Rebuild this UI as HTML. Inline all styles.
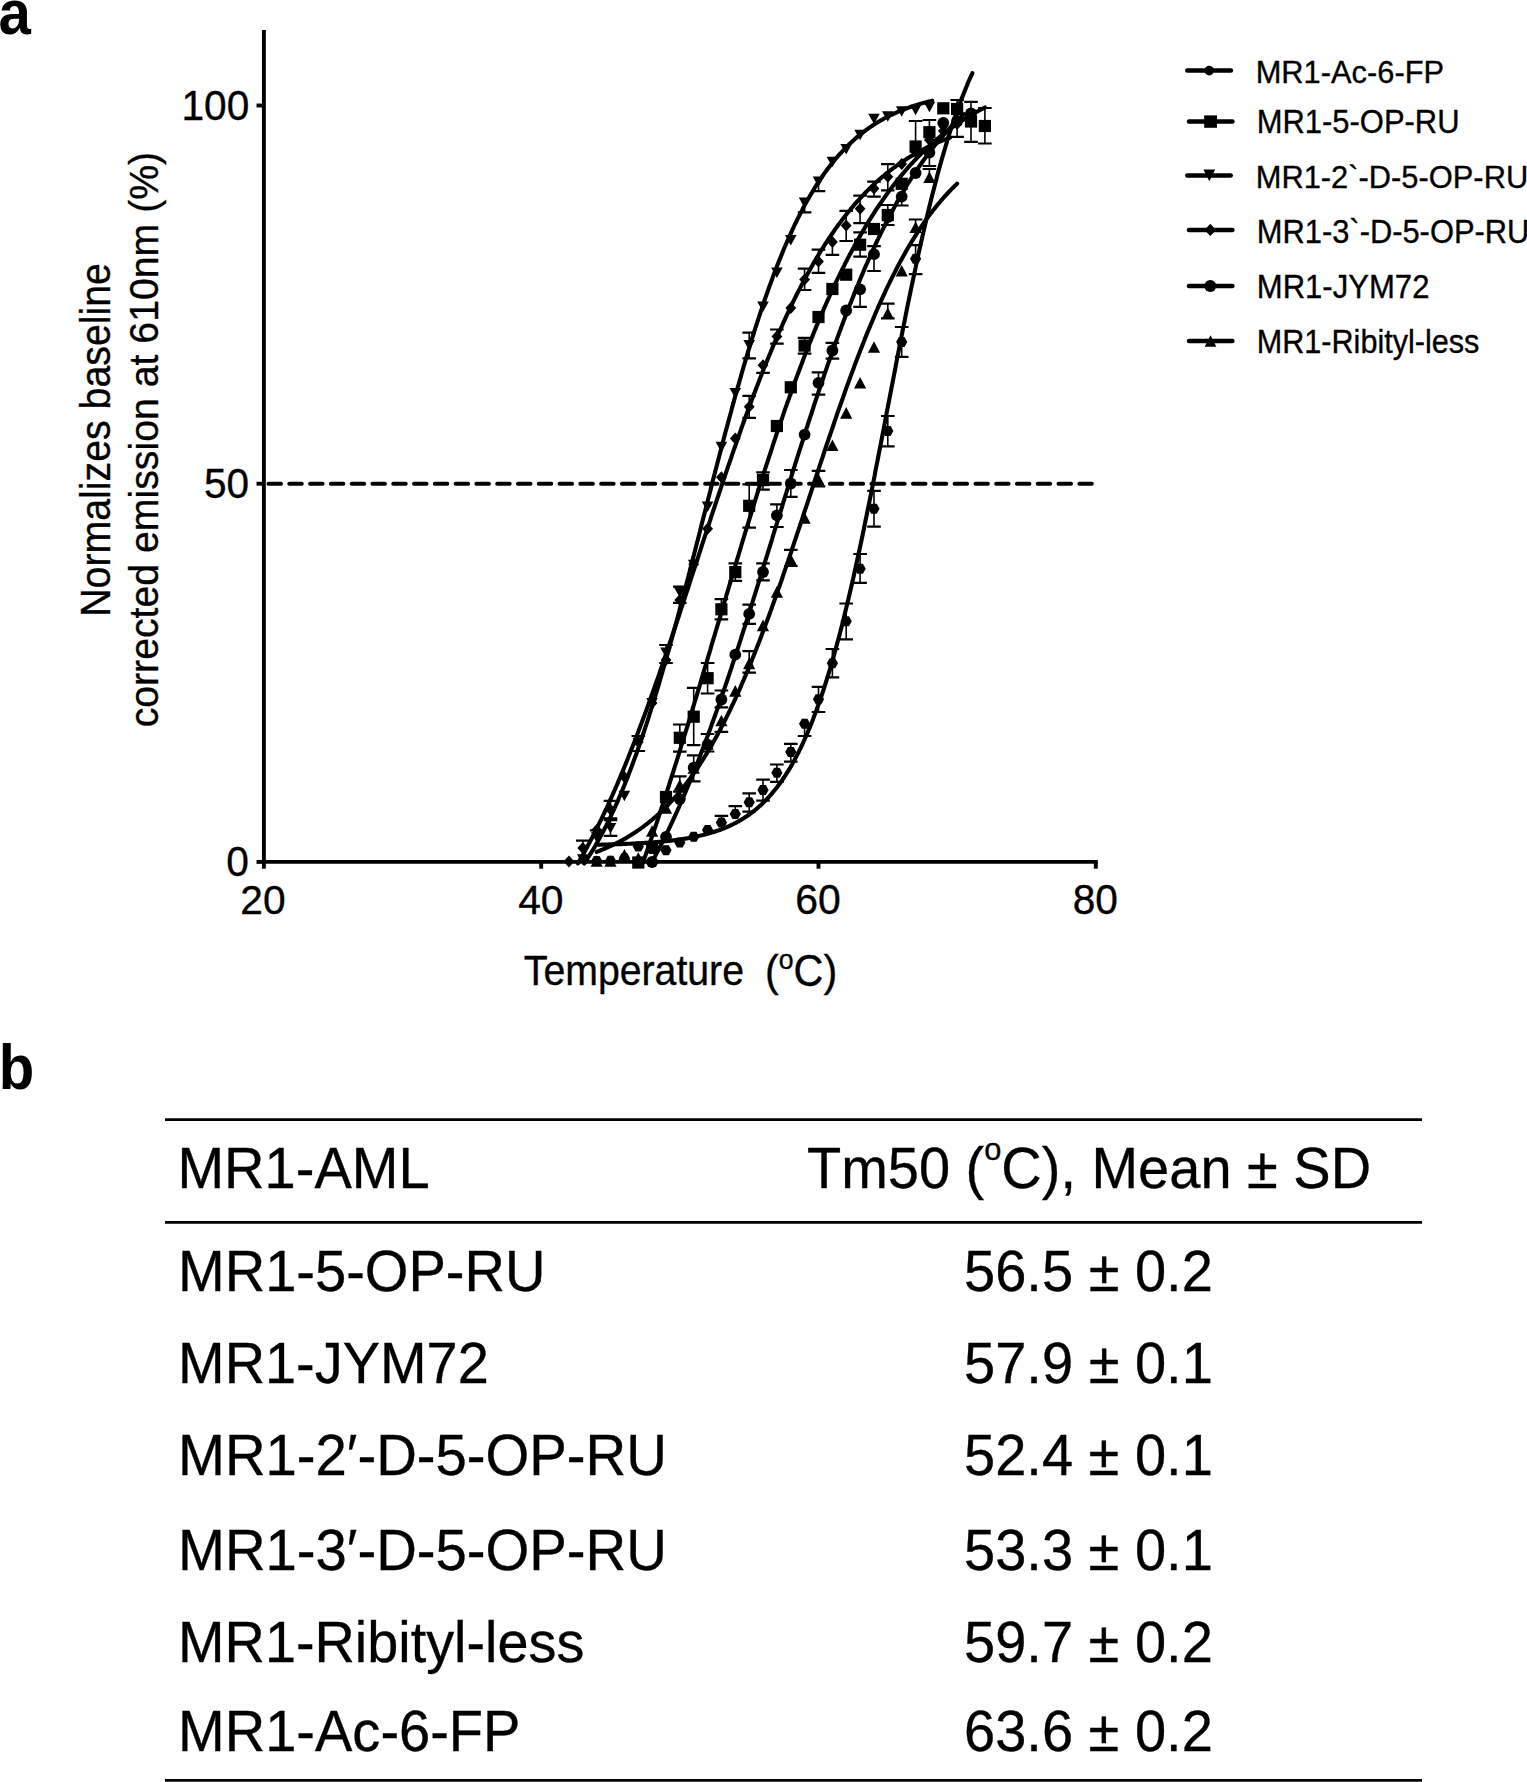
<!DOCTYPE html>
<html><head><meta charset="utf-8"><title>Figure</title><style>
html,body{margin:0;padding:0;background:#fff;overflow:hidden;}
svg{display:block;}
</style></head><body>
<svg width="1527" height="1782" viewBox="0 0 1527 1782" font-family="Liberation Sans, Arial, Helvetica, sans-serif">
<rect width="1527" height="1782" fill="#fff"/>
<text transform="matrix(0.9531,0,0,1.0375,-1.61,33.70)" font-size="61" font-weight="bold" stroke="#000" stroke-width="0" xml:space="preserve">a</text>
<text transform="matrix(0.9531,0,0,1.0273,-1.26,1088.60)" font-size="61" font-weight="bold" stroke="#000" stroke-width="0" xml:space="preserve">b</text>
<text transform="matrix(0.9680,0,0,1.0103,181.48,119.60)" font-size="42" stroke="#000" stroke-width="0.35" xml:space="preserve">100</text>
<text transform="matrix(0.9651,0,0,1.0034,204.07,497.90)" font-size="42" stroke="#000" stroke-width="0.35" xml:space="preserve">50</text>
<text transform="matrix(0.9700,0,0,1.0000,226.16,875.80)" font-size="42" stroke="#000" stroke-width="0.35" xml:space="preserve">0</text>
<text transform="matrix(0.9698,0,0,0.9862,240.36,913.60)" font-size="42" stroke="#000" stroke-width="0.35" xml:space="preserve">20</text>
<text transform="matrix(0.9705,0,0,0.9828,518.13,913.60)" font-size="42" stroke="#000" stroke-width="0.35" xml:space="preserve">40</text>
<text transform="matrix(0.9744,0,0,1.0000,795.35,914.00)" font-size="42" stroke="#000" stroke-width="0.35" xml:space="preserve">60</text>
<text transform="matrix(0.9674,0,0,1.0000,1072.77,914.00)" font-size="42" stroke="#000" stroke-width="0.35" xml:space="preserve">80</text>
<text transform="matrix(0.9343,0,0,1.0069,523.77,985.40)" font-size="42" stroke="#000" stroke-width="0.35" xml:space="preserve">Temperature</text>
<text transform="matrix(0.9853,0,0,1.0483,764.94,986.00)" font-size="42" stroke="#000" stroke-width="0.35" xml:space="preserve">(<tspan font-size="27" dy="-16.5">o</tspan><tspan dy="16.5">C)</tspan></text>
<text transform="rotate(-90) matrix(0.9357,0,0,0.9931,-616.81,110.20)" font-size="42" stroke="#000" stroke-width="0.35" xml:space="preserve">Normalizes baseline</text>
<text transform="rotate(-90) matrix(0.9340,0,0,0.9522,-727.37,158.00)" font-size="42" stroke="#000" stroke-width="0.35" xml:space="preserve">corrected emission at 610nm (%)</text>
<text transform="matrix(0.9345,0,0,0.9783,1255.70,82.50)" font-size="33" stroke="#000" stroke-width="0.35" xml:space="preserve">MR1-Ac-6-FP</text>
<text transform="matrix(0.9374,0,0,0.9826,1256.79,133.30)" font-size="33" stroke="#000" stroke-width="0.35" xml:space="preserve">MR1-5-OP-RU</text>
<text transform="matrix(0.9353,0,0,0.9696,1255.69,188.40)" font-size="33" stroke="#000" stroke-width="0.35" xml:space="preserve">MR1-2`-D-5-OP-RU</text>
<text transform="matrix(0.9353,0,0,0.9826,1256.79,243.00)" font-size="33" stroke="#000" stroke-width="0.35" xml:space="preserve">MR1-3`-D-5-OP-RU</text>
<text transform="matrix(0.9419,0,0,0.9826,1256.77,297.60)" font-size="33" stroke="#000" stroke-width="0.35" xml:space="preserve">MR1-JYM72</text>
<text transform="matrix(0.9267,0,0,0.9826,1256.82,352.70)" font-size="33" stroke="#000" stroke-width="0.35" xml:space="preserve">MR1-Ribityl-less</text>
<text transform="matrix(0.9498,0,0,0.9780,177.45,1188.20)" font-size="59" stroke="#000" stroke-width="0.35" xml:space="preserve">MR1-AML</text>
<text transform="matrix(0.9489,0,0,0.9732,806.95,1187.70)" font-size="59" stroke="#000" stroke-width="0.35" xml:space="preserve">Tm50 (<tspan font-size="32.5" dy="-28">o</tspan><tspan dy="28">C), Mean ± SD</tspan></text>
<text transform="matrix(0.9501,0,0,0.9805,178.05,1291.10)" font-size="59" stroke="#000" stroke-width="0.35" xml:space="preserve">MR1-5-OP-RU</text>
<text transform="matrix(0.9496,0,0,0.9805,964.05,1291.10)" font-size="59" stroke="#000" stroke-width="0.35" xml:space="preserve">56.5 ± 0.2</text>
<text transform="matrix(0.9478,0,0,0.9683,178.06,1383.00)" font-size="59" stroke="#000" stroke-width="0.35" xml:space="preserve">MR1-JYM72</text>
<text transform="matrix(0.9496,0,0,0.9683,964.05,1383.00)" font-size="59" stroke="#000" stroke-width="0.35" xml:space="preserve">57.9 ± 0.1</text>
<text transform="matrix(0.9541,0,0,0.9756,178.03,1475.20)" font-size="59" stroke="#000" stroke-width="0.35" xml:space="preserve">MR1-2′-D-5-OP-RU</text>
<text transform="matrix(0.9496,0,0,0.9756,964.05,1475.20)" font-size="59" stroke="#000" stroke-width="0.35" xml:space="preserve">52.4 ± 0.1</text>
<text transform="matrix(0.9541,0,0,0.9756,178.03,1570.00)" font-size="59" stroke="#000" stroke-width="0.35" xml:space="preserve">MR1-3′-D-5-OP-RU</text>
<text transform="matrix(0.9496,0,0,0.9756,964.05,1570.00)" font-size="59" stroke="#000" stroke-width="0.35" xml:space="preserve">53.3 ± 0.1</text>
<text transform="matrix(0.9464,0,0,0.9756,178.07,1662.20)" font-size="59" stroke="#000" stroke-width="0.35" xml:space="preserve">MR1-Ribityl-less</text>
<text transform="matrix(0.9496,0,0,0.9756,964.05,1662.20)" font-size="59" stroke="#000" stroke-width="0.35" xml:space="preserve">59.7 ± 0.2</text>
<text transform="matrix(0.9497,0,0,0.9756,178.05,1751.20)" font-size="59" stroke="#000" stroke-width="0.35" xml:space="preserve">MR1-Ac-6-FP</text>
<text transform="matrix(0.9496,0,0,0.9756,964.05,1751.20)" font-size="59" stroke="#000" stroke-width="0.35" xml:space="preserve">63.6 ± 0.2</text>
<path d="M263.9 30V863.85" stroke="#000" stroke-width="3.9" fill="none"/>
<path d="M261.95 861.9H1097.75" stroke="#000" stroke-width="3.9" fill="none"/>
<path d="M263.90 861.9V868.7" stroke="#000" stroke-width="3.9"/>
<path d="M541.20 861.9V868.7" stroke="#000" stroke-width="3.9"/>
<path d="M818.50 861.9V868.7" stroke="#000" stroke-width="3.9"/>
<path d="M1095.80 861.9V868.7" stroke="#000" stroke-width="3.9"/>
<path d="M256.5 861.90H263.9" stroke="#000" stroke-width="3.9"/>
<path d="M256.5 483.70H263.9" stroke="#000" stroke-width="3.9"/>
<path d="M256.5 105.50H263.9" stroke="#000" stroke-width="3.9"/>
<path d="M268.5 483.70H1092" stroke="#000" stroke-width="4" stroke-linecap="round" stroke-dasharray="12.5 8.29"/>
<path d="M1187.3 70.6H1230.9" stroke="#000" stroke-width="4.5" stroke-linecap="round"/>
<circle cx="1209.20" cy="70.60" r="4.80"/>
<path d="M1189 121.6H1232.4" stroke="#000" stroke-width="4.5" stroke-linecap="round"/>
<rect x="1204.20" y="115.40" width="12.80" height="12.40"/>
<path d="M1187.3 175.4H1230.7" stroke="#000" stroke-width="4.5" stroke-linecap="round"/>
<path d="M1203.40 169.62L1215.20 169.62L1209.30 181.18Z"/>
<path d="M1189 229.9H1232.4" stroke="#000" stroke-width="4.5" stroke-linecap="round"/>
<path d="M1210.30 223.80L1216.10 229.90L1210.30 236.00L1204.50 229.90Z"/>
<path d="M1189 285.9H1232.4" stroke="#000" stroke-width="4.5" stroke-linecap="round"/>
<circle cx="1210.30" cy="285.90" r="6.00"/>
<path d="M1189 341.0H1232.4" stroke="#000" stroke-width="4.5" stroke-linecap="round"/>
<path d="M1204.70 346.68L1216.30 346.68L1210.50 335.32Z"/>
<path d="M165 1119.6H1422M165 1222.3H1422M165 1780.3H1422" stroke="#000" stroke-width="2.8"/>
<path d="M584.2 863.5 L584.9 862.5 L585.6 861.5 L586.3 860.4 L587.0 859.4 L587.6 858.3 L588.3 857.2 L589.0 856.1 L589.7 855.0 L590.4 853.9 L591.1 852.8 L591.8 851.7 L592.5 850.5 L593.2 849.4 L593.9 848.2 L594.6 847.0 L595.3 845.8 L596.0 844.6 L596.7 843.4 L597.4 842.2 L598.0 841.0 L598.7 839.7 L599.4 838.5 L600.1 837.2 L600.8 835.9 L601.5 834.6 L602.2 833.3 L602.9 832.0 L603.6 830.7 L604.3 829.4 L605.0 828.0 L605.7 826.7 L606.4 825.3 L607.1 823.9 L607.8 822.5 L608.4 821.1 L609.1 819.7 L609.8 818.2 L610.5 816.8 L611.2 815.3 L611.9 813.8 L612.6 812.4 L613.3 810.9 L614.0 809.4 L614.7 807.8 L615.4 806.3 L616.1 804.7 L616.8 803.2 L617.5 801.6 L618.2 800.0 L618.8 798.4 L619.5 796.8 L620.2 795.2 L620.9 793.5 L621.6 791.9 L622.3 790.2 L623.0 788.5 L623.7 786.9 L624.4 785.2 L625.1 783.4 L625.8 781.7 L626.5 780.0 L627.2 778.2 L627.9 776.4 L628.5 774.7 L629.2 772.9 L629.9 771.0 L630.6 769.2 L631.3 767.4 L632.0 765.5 L632.7 763.7 L633.4 761.8 L634.1 759.9 L634.8 758.0 L635.5 756.1 L636.2 754.2 L636.9 752.2 L637.6 750.3 L638.3 748.3 L638.9 746.3 L639.6 744.3 L640.3 742.3 L641.0 740.3 L641.7 738.3 L642.4 736.2 L643.1 734.2 L643.8 732.1 L644.5 730.0 L645.2 727.9 L645.9 725.8 L646.6 723.7 L647.3 721.6 L648.0 719.4 L648.7 717.3 L649.3 715.1 L650.0 712.9 L650.7 710.7 L651.4 708.5 L652.1 706.3 L652.8 704.1 L653.5 701.8 L654.2 699.6 L654.9 697.3 L655.6 695.0 L656.3 692.8 L657.0 690.5 L657.7 688.1 L658.4 685.8 L659.1 683.5 L659.7 681.1 L660.4 678.8 L661.1 676.4 L661.8 674.0 L662.5 671.7 L663.2 669.3 L663.9 666.8 L664.6 664.4 L665.3 662.0 L666.0 659.6 L666.7 657.1 L667.4 654.7 L668.1 652.2 L668.8 649.7 L669.5 647.2 L670.1 644.7 L670.8 642.2 L671.5 639.7 L672.2 637.2 L672.9 634.7 L673.6 632.1 L674.3 629.6 L675.0 627.0 L675.7 624.5 L676.4 621.9 L677.1 619.3 L677.8 616.7 L678.5 614.1 L679.2 611.5 L679.8 608.9 L680.5 606.3 L681.2 603.7 L681.9 601.1 L682.6 598.4 L683.3 595.8 L684.0 593.2 L684.7 590.5 L685.4 587.9 L686.1 585.2 L686.8 582.5 L687.5 579.9 L688.2 577.2 L688.9 574.5 L689.6 571.8 L690.2 569.1 L690.9 566.4 L691.6 563.8 L692.3 561.1 L693.0 558.4 L693.7 555.7 L694.4 552.9 L695.1 550.2 L695.8 547.5 L696.5 544.8 L697.2 542.1 L697.9 539.4 L698.6 536.7 L699.3 533.9 L700.0 531.2 L700.6 528.5 L701.3 525.8 L702.0 523.1 L702.7 520.3 L703.4 517.6 L704.1 514.9 L704.8 512.2 L705.5 509.5 L706.2 506.7 L706.9 504.0 L707.6 501.3 L708.3 498.6 L709.0 495.9 L709.7 493.2 L710.4 490.5 L711.0 487.7 L711.7 485.0 L712.4 482.3 L713.1 479.6 L713.8 476.9 L714.5 474.3 L715.2 471.6 L715.9 468.9 L716.6 466.2 L717.3 463.5 L718.0 460.9 L718.7 458.2 L719.4 455.5 L720.1 452.9 L720.8 450.2 L721.4 447.6 L722.1 444.9 L722.8 442.3 L723.5 439.7 L724.2 437.0 L724.9 434.4 L725.6 431.8 L726.3 429.2 L727.0 426.6 L727.7 424.0 L728.4 421.4 L729.1 418.9 L729.8 416.3 L730.5 413.7 L731.2 411.2 L731.8 408.6 L732.5 406.1 L733.2 403.6 L733.9 401.1 L734.6 398.5 L735.3 396.0 L736.0 393.6 L736.7 391.1 L737.4 388.6 L738.1 386.1 L738.8 383.7 L739.5 381.2 L740.2 378.8 L740.9 376.4 L741.5 374.0 L742.2 371.6 L742.9 369.2 L743.6 366.8 L744.3 364.4 L745.0 362.1 L745.7 359.7 L746.4 357.4 L747.1 355.0 L747.8 352.7 L748.5 350.4 L749.2 348.1 L749.9 345.8 L750.6 343.6 L751.3 341.3 L751.9 339.0 L752.6 336.8 L753.3 334.6 L754.0 332.4 L754.7 330.2 L755.4 328.0 L756.1 325.8 L756.8 323.6 L757.5 321.5 L758.2 319.3 L758.9 317.2 L759.6 315.1 L760.3 313.0 L761.0 310.9 L761.7 308.8 L762.3 306.8 L763.0 304.7 L763.7 302.7 L764.4 300.7 L765.1 298.6 L765.8 296.6 L766.5 294.7 L767.2 292.7 L767.9 290.7 L768.6 288.8 L769.3 286.8 L770.0 284.9 L770.7 283.0 L771.4 281.1 L772.1 279.2 L772.7 277.4 L773.4 275.5 L774.1 273.7 L774.8 271.8 L775.5 270.0 L776.2 268.2 L776.9 266.4 L777.6 264.6 L778.3 262.9 L779.0 261.1 L779.7 259.4 L780.4 257.7 L781.1 256.0 L781.8 254.3 L782.5 252.6 L783.1 250.9 L783.8 249.2 L784.5 247.6 L785.2 246.0 L785.9 244.3 L786.6 242.7 L787.3 241.1 L788.0 239.6 L788.7 238.0 L789.4 236.4 L790.1 234.9 L790.8 233.4 L791.5 231.8 L792.2 230.3 L792.8 228.8 L793.5 227.4 L794.2 225.9 L794.9 224.4 L795.6 223.0 L796.3 221.6 L797.0 220.1 L797.7 218.7 L798.4 217.3 L799.1 216.0 L799.8 214.6 L800.5 213.2 L801.2 211.9 L801.9 210.6 L802.6 209.2 L803.2 207.9 L803.9 206.6 L804.6 205.3 L805.3 204.1 L806.0 202.8 L806.7 201.6 L807.4 200.3 L808.1 199.1 L808.8 197.9 L809.5 196.7 L810.2 195.5 L810.9 194.3 L811.6 193.1 L812.3 192.0 L813.0 190.8 L813.6 189.7 L814.3 188.5 L815.0 187.4 L815.7 186.3 L816.4 185.2 L817.1 184.1 L817.8 183.1 L818.5 182.0 L819.2 181.0 L819.9 179.9 L820.6 178.9 L821.3 177.9 L822.0 176.8 L822.7 175.8 L823.4 174.8 L824.0 173.9 L824.7 172.9 L825.4 171.9 L826.1 171.0 L826.8 170.0 L827.5 169.1 L828.2 168.2 L828.9 167.3 L829.6 166.4 L830.3 165.5 L831.0 164.6 L831.7 163.7 L832.4 162.8 L833.1 162.0 L833.8 161.1 L834.4 160.3 L835.1 159.4 L835.8 158.6 L836.5 157.8 L837.2 157.0 L837.9 156.2 L838.6 155.4 L839.3 154.6 L840.0 153.8 L840.7 153.1 L841.4 152.3 L842.1 151.6 L842.8 150.8 L843.5 150.1 L844.2 149.4 L844.8 148.6 L845.5 147.9 L846.2 147.2 L846.9 146.5 L847.6 145.8 L848.3 145.2 L849.0 144.5 L849.7 143.8 L850.4 143.2 L851.1 142.5 L851.8 141.9 L852.5 141.2 L853.2 140.6 L853.9 140.0 L854.5 139.4 L855.2 138.7 L855.9 138.1 L856.6 137.5 L857.3 137.0 L858.0 136.4 L858.7 135.8 L859.4 135.2 L860.1 134.7 L860.8 134.1 L861.5 133.5 L862.2 133.0 L862.9 132.5 L863.6 131.9 L864.3 131.4 L864.9 130.9 L865.6 130.4 L866.3 129.9 L867.0 129.3 L867.7 128.8 L868.4 128.4 L869.1 127.9 L869.8 127.4 L870.5 126.9 L871.2 126.4 L871.9 126.0 L872.6 125.5 L873.3 125.1 L874.0 124.6 L874.7 124.2 L875.3 123.7 L876.0 123.3 L876.7 122.9 L877.4 122.4 L878.1 122.0 L878.8 121.6 L879.5 121.2 L880.2 120.8 L880.9 120.4 L881.6 120.0 L882.3 119.6 L883.0 119.2 L883.7 118.8 L884.4 118.4 L885.1 118.1 L885.7 117.7 L886.4 117.3 L887.1 117.0 L887.8 116.6 L888.5 116.3 L889.2 115.9 L889.9 115.6 L890.6 115.2 L891.3 114.9 L892.0 114.6 L892.7 114.2 L893.4 113.9 L894.1 113.6 L894.8 113.3 L895.5 113.0 L896.1 112.6 L896.8 112.3 L897.5 112.0 L898.2 111.7 L898.9 111.4 L899.6 111.2 L900.3 110.9 L901.0 110.6 L901.7 110.3 L902.4 110.0 L903.1 109.7 L903.8 109.5 L904.5 109.2 L905.2 108.9 L905.8 108.7 L906.5 108.4 L907.2 108.2 L907.9 107.9 L908.6 107.7 L909.3 107.4 L910.0 107.2 L910.7 106.9 L911.4 106.7 L912.1 106.4 L912.8 106.2 L913.5 106.0 L914.2 105.8 L914.9 105.5 L915.6 105.3 L916.2 105.1 L916.9 104.9 L917.6 104.7 L918.3 104.5 L919.0 104.2 L919.7 104.0 L920.4 103.8 L921.1 103.6 L921.8 103.4 L922.5 103.2 L923.2 103.0 L923.9 102.8 L924.6 102.7 L925.3 102.5 L926.0 102.3 L926.6 102.1 L927.3 101.9 L928.0 101.7 L928.7 101.6 L929.4 101.4 L930.1 101.2 L930.8 101.1 L931.5 100.9 L932.2 100.7" fill="none" stroke="#000" stroke-width="4.1" stroke-linecap="round" stroke-linejoin="round"/>
<path d="M577.9 863.4 L578.6 862.2 L579.3 861.0 L580.0 859.8 L580.7 858.6 L581.4 857.4 L582.1 856.1 L582.8 854.9 L583.5 853.7 L584.2 852.4 L584.9 851.2 L585.6 849.9 L586.3 848.6 L587.0 847.4 L587.6 846.1 L588.3 844.8 L589.0 843.5 L589.7 842.2 L590.4 840.8 L591.1 839.5 L591.8 838.2 L592.5 836.9 L593.2 835.5 L593.9 834.2 L594.6 832.8 L595.3 831.4 L596.0 830.0 L596.7 828.7 L597.4 827.3 L598.0 825.9 L598.7 824.5 L599.4 823.0 L600.1 821.6 L600.8 820.2 L601.5 818.8 L602.2 817.3 L602.9 815.8 L603.6 814.4 L604.3 812.9 L605.0 811.4 L605.7 810.0 L606.4 808.5 L607.1 807.0 L607.8 805.5 L608.4 803.9 L609.1 802.4 L609.8 800.9 L610.5 799.3 L611.2 797.8 L611.9 796.3 L612.6 794.7 L613.3 793.1 L614.0 791.5 L614.7 790.0 L615.4 788.4 L616.1 786.8 L616.8 785.2 L617.5 783.6 L618.2 781.9 L618.8 780.3 L619.5 778.7 L620.2 777.0 L620.9 775.4 L621.6 773.7 L622.3 772.1 L623.0 770.4 L623.7 768.7 L624.4 767.0 L625.1 765.3 L625.8 763.6 L626.5 761.9 L627.2 760.2 L627.9 758.5 L628.5 756.7 L629.2 755.0 L629.9 753.3 L630.6 751.5 L631.3 749.8 L632.0 748.0 L632.7 746.2 L633.4 744.5 L634.1 742.7 L634.8 740.9 L635.5 739.1 L636.2 737.3 L636.9 735.5 L637.6 733.6 L638.3 731.8 L638.9 730.0 L639.6 728.2 L640.3 726.3 L641.0 724.5 L641.7 722.6 L642.4 720.8 L643.1 718.9 L643.8 717.0 L644.5 715.1 L645.2 713.2 L645.9 711.4 L646.6 709.5 L647.3 707.6 L648.0 705.6 L648.7 703.7 L649.3 701.8 L650.0 699.9 L650.7 698.0 L651.4 696.0 L652.1 694.1 L652.8 692.1 L653.5 690.2 L654.2 688.2 L654.9 686.3 L655.6 684.3 L656.3 682.3 L657.0 680.3 L657.7 678.4 L658.4 676.4 L659.1 674.4 L659.7 672.4 L660.4 670.4 L661.1 668.4 L661.8 666.4 L662.5 664.3 L663.2 662.3 L663.9 660.3 L664.6 658.3 L665.3 656.2 L666.0 654.2 L666.7 652.2 L667.4 650.1 L668.1 648.1 L668.8 646.0 L669.5 644.0 L670.1 641.9 L670.8 639.9 L671.5 637.8 L672.2 635.7 L672.9 633.7 L673.6 631.6 L674.3 629.5 L675.0 627.4 L675.7 625.3 L676.4 623.3 L677.1 621.2 L677.8 619.1 L678.5 617.0 L679.2 614.9 L679.8 612.8 L680.5 610.7 L681.2 608.6 L681.9 606.5 L682.6 604.4 L683.3 602.3 L684.0 600.2 L684.7 598.1 L685.4 595.9 L686.1 593.8 L686.8 591.7 L687.5 589.6 L688.2 587.5 L688.9 585.4 L689.6 583.2 L690.2 581.1 L690.9 579.0 L691.6 576.9 L692.3 574.8 L693.0 572.6 L693.7 570.5 L694.4 568.4 L695.1 566.3 L695.8 564.1 L696.5 562.0 L697.2 559.9 L697.9 557.8 L698.6 555.6 L699.3 553.5 L700.0 551.4 L700.6 549.3 L701.3 547.1 L702.0 545.0 L702.7 542.9 L703.4 540.8 L704.1 538.7 L704.8 536.5 L705.5 534.4 L706.2 532.3 L706.9 530.2 L707.6 528.1 L708.3 526.0 L709.0 523.8 L709.7 521.7 L710.4 519.6 L711.0 517.5 L711.7 515.4 L712.4 513.3 L713.1 511.2 L713.8 509.1 L714.5 507.0 L715.2 504.9 L715.9 502.8 L716.6 500.8 L717.3 498.7 L718.0 496.6 L718.7 494.5 L719.4 492.4 L720.1 490.4 L720.8 488.3 L721.4 486.2 L722.1 484.2 L722.8 482.1 L723.5 480.0 L724.2 478.0 L724.9 475.9 L725.6 473.9 L726.3 471.8 L727.0 469.8 L727.7 467.8 L728.4 465.7 L729.1 463.7 L729.8 461.7 L730.5 459.7 L731.2 457.7 L731.8 455.7 L732.5 453.6 L733.2 451.6 L733.9 449.6 L734.6 447.7 L735.3 445.7 L736.0 443.7 L736.7 441.7 L737.4 439.7 L738.1 437.8 L738.8 435.8 L739.5 433.8 L740.2 431.9 L740.9 429.9 L741.5 428.0 L742.2 426.1 L742.9 424.1 L743.6 422.2 L744.3 420.3 L745.0 418.4 L745.7 416.5 L746.4 414.6 L747.1 412.7 L747.8 410.8 L748.5 408.9 L749.2 407.0 L749.9 405.1 L750.6 403.3 L751.3 401.4 L751.9 399.6 L752.6 397.7 L753.3 395.9 L754.0 394.0 L754.7 392.2 L755.4 390.4 L756.1 388.6 L756.8 386.8 L757.5 385.0 L758.2 383.2 L758.9 381.4 L759.6 379.6 L760.3 377.8 L761.0 376.0 L761.7 374.3 L762.3 372.5 L763.0 370.8 L763.7 369.0 L764.4 367.3 L765.1 365.6 L765.8 363.8 L766.5 362.1 L767.2 360.4 L767.9 358.7 L768.6 357.0 L769.3 355.3 L770.0 353.7 L770.7 352.0 L771.4 350.3 L772.1 348.7 L772.7 347.0 L773.4 345.4 L774.1 343.7 L774.8 342.1 L775.5 340.5 L776.2 338.9 L776.9 337.3 L777.6 335.7 L778.3 334.1 L779.0 332.5 L779.7 330.9 L780.4 329.4 L781.1 327.8 L781.8 326.3 L782.5 324.7 L783.1 323.2 L783.8 321.6 L784.5 320.1 L785.2 318.6 L785.9 317.1 L786.6 315.6 L787.3 314.1 L788.0 312.6 L788.7 311.1 L789.4 309.7 L790.1 308.2 L790.8 306.8 L791.5 305.3 L792.2 303.9 L792.8 302.4 L793.5 301.0 L794.2 299.6 L794.9 298.2 L795.6 296.8 L796.3 295.4 L797.0 294.0 L797.7 292.6 L798.4 291.3 L799.1 289.9 L799.8 288.6 L800.5 287.2 L801.2 285.9 L801.9 284.5 L802.6 283.2 L803.2 281.9 L803.9 280.6 L804.6 279.3 L805.3 278.0 L806.0 276.7 L806.7 275.4 L807.4 274.2 L808.1 272.9 L808.8 271.7 L809.5 270.4 L810.2 269.2 L810.9 267.9 L811.6 266.7 L812.3 265.5 L813.0 264.3 L813.6 263.1 L814.3 261.9 L815.0 260.7 L815.7 259.5 L816.4 258.3 L817.1 257.2 L817.8 256.0 L818.5 254.9 L819.2 253.7 L819.9 252.6 L820.6 251.5 L821.3 250.3 L822.0 249.2 L822.7 248.1 L823.4 247.0 L824.0 245.9 L824.7 244.8 L825.4 243.8 L826.1 242.7 L826.8 241.6 L827.5 240.6 L828.2 239.5 L828.9 238.5 L829.6 237.4 L830.3 236.4 L831.0 235.4 L831.7 234.4 L832.4 233.4 L833.1 232.4 L833.8 231.4 L834.4 230.4 L835.1 229.4 L835.8 228.4 L836.5 227.4 L837.2 226.5 L837.9 225.5 L838.6 224.6 L839.3 223.6 L840.0 222.7 L840.7 221.8 L841.4 220.9 L842.1 219.9 L842.8 219.0 L843.5 218.1 L844.2 217.2 L844.8 216.3 L845.5 215.5 L846.2 214.6 L846.9 213.7 L847.6 212.8 L848.3 212.0 L849.0 211.1 L849.7 210.3 L850.4 209.5 L851.1 208.6 L851.8 207.8 L852.5 207.0 L853.2 206.2 L853.9 205.3 L854.5 204.5 L855.2 203.7 L855.9 203.0 L856.6 202.2 L857.3 201.4 L858.0 200.6 L858.7 199.8 L859.4 199.1 L860.1 198.3 L860.8 197.6 L861.5 196.8 L862.2 196.1 L862.9 195.4 L863.6 194.6 L864.3 193.9 L864.9 193.2 L865.6 192.5 L866.3 191.8 L867.0 191.1 L867.7 190.4 L868.4 189.7 L869.1 189.0 L869.8 188.3 L870.5 187.6 L871.2 187.0 L871.9 186.3 L872.6 185.6 L873.3 185.0 L874.0 184.3 L874.7 183.7 L875.3 183.1 L876.0 182.4 L876.7 181.8 L877.4 181.2 L878.1 180.5 L878.8 179.9 L879.5 179.3 L880.2 178.7 L880.9 178.1 L881.6 177.5 L882.3 176.9 L883.0 176.3 L883.7 175.8 L884.4 175.2 L885.1 174.6 L885.7 174.0 L886.4 173.5 L887.1 172.9 L887.8 172.4 L888.5 171.8 L889.2 171.3 L889.9 170.7 L890.6 170.2 L891.3 169.7 L892.0 169.1 L892.7 168.6 L893.4 168.1 L894.1 167.6 L894.8 167.1 L895.5 166.6 L896.1 166.1 L896.8 165.6 L897.5 165.1 L898.2 164.6 L898.9 164.1 L899.6 163.6 L900.3 163.1 L901.0 162.7 L901.7 162.2 L902.4 161.7 L903.1 161.3 L903.8 160.8 L904.5 160.4 L905.2 159.9 L905.8 159.5 L906.5 159.0 L907.2 158.6 L907.9 158.1 L908.6 157.7 L909.3 157.3 L910.0 156.8 L910.7 156.4 L911.4 156.0 L912.1 155.6 L912.8 155.2 L913.5 154.8 L914.2 154.4 L914.9 154.0 L915.6 153.6 L916.2 153.2 L916.9 152.8 L917.6 152.4 L918.3 152.0 L919.0 151.6 L919.7 151.3 L920.4 150.9 L921.1 150.5 L921.8 150.1 L922.5 149.8 L923.2 149.4 L923.9 149.1 L924.6 148.7 L925.3 148.3 L926.0 148.0 L926.6 147.6 L927.3 147.3 L928.0 147.0 L928.7 146.6 L929.4 146.3 L930.1 146.0 L930.8 145.6 L931.5 145.3 L932.2 145.0 L932.9 144.7 L933.6 144.3 L934.3 144.0 L935.0 143.7 L935.7 143.4 L936.4 143.1 L937.0 142.8 L937.7 142.5 L938.4 142.2 L939.1 141.9 L939.8 141.6 L940.5 141.3 L941.2 141.0 L941.9 140.7 L942.6 140.4 L943.3 140.2 L944.0 139.9 L944.7 139.6 L945.4 139.3 L946.1 139.1 L946.8 138.8 L947.4 138.5 L948.1 138.3 L948.8 138.0 L949.5 137.7 L950.2 137.5" fill="none" stroke="#000" stroke-width="4.1" stroke-linecap="round" stroke-linejoin="round"/>
<path d="M642.4 863.9 L643.1 862.0 L643.8 860.0 L644.5 858.1 L645.2 856.1 L645.9 854.2 L646.6 852.2 L647.3 850.2 L648.0 848.2 L648.7 846.2 L649.3 844.2 L650.0 842.2 L650.7 840.2 L651.4 838.2 L652.1 836.2 L652.8 834.1 L653.5 832.1 L654.2 830.1 L654.9 828.0 L655.6 826.0 L656.3 823.9 L657.0 821.8 L657.7 819.8 L658.4 817.7 L659.1 815.6 L659.7 813.5 L660.4 811.4 L661.1 809.3 L661.8 807.2 L662.5 805.1 L663.2 803.0 L663.9 800.8 L664.6 798.7 L665.3 796.6 L666.0 794.4 L666.7 792.3 L667.4 790.1 L668.1 788.0 L668.8 785.8 L669.5 783.7 L670.1 781.5 L670.8 779.3 L671.5 777.1 L672.2 775.0 L672.9 772.8 L673.6 770.6 L674.3 768.4 L675.0 766.2 L675.7 764.0 L676.4 761.8 L677.1 759.6 L677.8 757.3 L678.5 755.1 L679.2 752.9 L679.8 750.7 L680.5 748.4 L681.2 746.2 L681.9 743.9 L682.6 741.7 L683.3 739.4 L684.0 737.2 L684.7 734.9 L685.4 732.7 L686.1 730.4 L686.8 728.1 L687.5 725.9 L688.2 723.6 L688.9 721.3 L689.6 719.0 L690.2 716.7 L690.9 714.5 L691.6 712.2 L692.3 709.9 L693.0 707.6 L693.7 705.3 L694.4 703.0 L695.1 700.7 L695.8 698.4 L696.5 696.1 L697.2 693.8 L697.9 691.4 L698.6 689.1 L699.3 686.8 L700.0 684.5 L700.6 682.2 L701.3 679.8 L702.0 677.5 L702.7 675.2 L703.4 672.9 L704.1 670.5 L704.8 668.2 L705.5 665.9 L706.2 663.6 L706.9 661.2 L707.6 658.9 L708.3 656.5 L709.0 654.2 L709.7 651.9 L710.4 649.5 L711.0 647.2 L711.7 644.9 L712.4 642.5 L713.1 640.2 L713.8 637.8 L714.5 635.5 L715.2 633.2 L715.9 630.8 L716.6 628.5 L717.3 626.1 L718.0 623.8 L718.7 621.4 L719.4 619.1 L720.1 616.8 L720.8 614.4 L721.4 612.1 L722.1 609.7 L722.8 607.4 L723.5 605.1 L724.2 602.7 L724.9 600.4 L725.6 598.1 L726.3 595.7 L727.0 593.4 L727.7 591.1 L728.4 588.7 L729.1 586.4 L729.8 584.1 L730.5 581.8 L731.2 579.4 L731.8 577.1 L732.5 574.8 L733.2 572.5 L733.9 570.1 L734.6 567.8 L735.3 565.5 L736.0 563.2 L736.7 560.9 L737.4 558.6 L738.1 556.3 L738.8 554.0 L739.5 551.7 L740.2 549.4 L740.9 547.1 L741.5 544.8 L742.2 542.5 L742.9 540.2 L743.6 538.0 L744.3 535.7 L745.0 533.4 L745.7 531.1 L746.4 528.9 L747.1 526.6 L747.8 524.3 L748.5 522.1 L749.2 519.8 L749.9 517.6 L750.6 515.3 L751.3 513.1 L751.9 510.8 L752.6 508.6 L753.3 506.4 L754.0 504.1 L754.7 501.9 L755.4 499.7 L756.1 497.5 L756.8 495.2 L757.5 493.0 L758.2 490.8 L758.9 488.6 L759.6 486.4 L760.3 484.3 L761.0 482.1 L761.7 479.9 L762.3 477.7 L763.0 475.5 L763.7 473.4 L764.4 471.2 L765.1 469.1 L765.8 466.9 L766.5 464.8 L767.2 462.6 L767.9 460.5 L768.6 458.3 L769.3 456.2 L770.0 454.1 L770.7 452.0 L771.4 449.9 L772.1 447.8 L772.7 445.7 L773.4 443.6 L774.1 441.5 L774.8 439.4 L775.5 437.3 L776.2 435.3 L776.9 433.2 L777.6 431.1 L778.3 429.1 L779.0 427.1 L779.7 425.0 L780.4 423.0 L781.1 421.0 L781.8 418.9 L782.5 416.9 L783.1 414.9 L783.8 412.9 L784.5 410.9 L785.2 408.9 L785.9 406.9 L786.6 405.0 L787.3 403.0 L788.0 401.0 L788.7 399.1 L789.4 397.1 L790.1 395.2 L790.8 393.2 L791.5 391.3 L792.2 389.4 L792.8 387.5 L793.5 385.5 L794.2 383.6 L794.9 381.7 L795.6 379.9 L796.3 378.0 L797.0 376.1 L797.7 374.2 L798.4 372.4 L799.1 370.5 L799.8 368.7 L800.5 366.8 L801.2 365.0 L801.9 363.2 L802.6 361.3 L803.2 359.5 L803.9 357.7 L804.6 355.9 L805.3 354.1 L806.0 352.3 L806.7 350.6 L807.4 348.8 L808.1 347.0 L808.8 345.3 L809.5 343.5 L810.2 341.8 L810.9 340.1 L811.6 338.3 L812.3 336.6 L813.0 334.9 L813.6 333.2 L814.3 331.5 L815.0 329.8 L815.7 328.1 L816.4 326.4 L817.1 324.8 L817.8 323.1 L818.5 321.5 L819.2 319.8 L819.9 318.2 L820.6 316.6 L821.3 314.9 L822.0 313.3 L822.7 311.7 L823.4 310.1 L824.0 308.5 L824.7 306.9 L825.4 305.4 L826.1 303.8 L826.8 302.2 L827.5 300.7 L828.2 299.1 L828.9 297.6 L829.6 296.0 L830.3 294.5 L831.0 293.0 L831.7 291.5 L832.4 290.0 L833.1 288.5 L833.8 287.0 L834.4 285.5 L835.1 284.0 L835.8 282.6 L836.5 281.1 L837.2 279.7 L837.9 278.2 L838.6 276.8 L839.3 275.4 L840.0 273.9 L840.7 272.5 L841.4 271.1 L842.1 269.7 L842.8 268.3 L843.5 266.9 L844.2 265.6 L844.8 264.2 L845.5 262.8 L846.2 261.5 L846.9 260.1 L847.6 258.8 L848.3 257.4 L849.0 256.1 L849.7 254.8 L850.4 253.5 L851.1 252.2 L851.8 250.9 L852.5 249.6 L853.2 248.3 L853.9 247.0 L854.5 245.8 L855.2 244.5 L855.9 243.2 L856.6 242.0 L857.3 240.8 L858.0 239.5 L858.7 238.3 L859.4 237.1 L860.1 235.9 L860.8 234.7 L861.5 233.5 L862.2 232.3 L862.9 231.1 L863.6 229.9 L864.3 228.7 L864.9 227.6 L865.6 226.4 L866.3 225.2 L867.0 224.1 L867.7 223.0 L868.4 221.8 L869.1 220.7 L869.8 219.6 L870.5 218.5 L871.2 217.4 L871.9 216.3 L872.6 215.2 L873.3 214.1 L874.0 213.0 L874.7 212.0 L875.3 210.9 L876.0 209.8 L876.7 208.8 L877.4 207.7 L878.1 206.7 L878.8 205.7 L879.5 204.6 L880.2 203.6 L880.9 202.6 L881.6 201.6 L882.3 200.6 L883.0 199.6 L883.7 198.6 L884.4 197.6 L885.1 196.7 L885.7 195.7 L886.4 194.7 L887.1 193.8 L887.8 192.8 L888.5 191.9 L889.2 190.9 L889.9 190.0 L890.6 189.1 L891.3 188.2 L892.0 187.2 L892.7 186.3 L893.4 185.4 L894.1 184.5 L894.8 183.6 L895.5 182.7 L896.1 181.9 L896.8 181.0 L897.5 180.1 L898.2 179.3 L898.9 178.4 L899.6 177.5 L900.3 176.7 L901.0 175.9 L901.7 175.0 L902.4 174.2 L903.1 173.4 L903.8 172.6 L904.5 171.7 L905.2 170.9 L905.8 170.1 L906.5 169.3 L907.2 168.5 L907.9 167.8 L908.6 167.0 L909.3 166.2 L910.0 165.4 L910.7 164.7 L911.4 163.9 L912.1 163.1 L912.8 162.4 L913.5 161.7 L914.2 160.9 L914.9 160.2 L915.6 159.4 L916.2 158.7 L916.9 158.0 L917.6 157.3 L918.3 156.6 L919.0 155.9 L919.7 155.2 L920.4 154.5 L921.1 153.8 L921.8 153.1 L922.5 152.4 L923.2 151.7 L923.9 151.1 L924.6 150.4 L925.3 149.7 L926.0 149.1 L926.6 148.4 L927.3 147.8 L928.0 147.1 L928.7 146.5 L929.4 145.9 L930.1 145.2 L930.8 144.6 L931.5 144.0 L932.2 143.4 L932.9 142.8 L933.6 142.2 L934.3 141.6 L935.0 141.0 L935.7 140.4 L936.4 139.8 L937.0 139.2 L937.7 138.6 L938.4 138.0 L939.1 137.4 L939.8 136.9 L940.5 136.3 L941.2 135.7 L941.9 135.2 L942.6 134.6 L943.3 134.1 L944.0 133.5 L944.7 133.0 L945.4 132.5 L946.1 131.9 L946.8 131.4 L947.4 130.9 L948.1 130.3 L948.8 129.8 L949.5 129.3 L950.2 128.8 L950.9 128.3 L951.6 127.8 L952.3 127.3 L953.0 126.8 L953.7 126.3 L954.4 125.8 L955.1 125.3 L955.8 124.8 L956.5 124.4 L957.1 123.9 L957.8 123.4 L958.5 122.9 L959.2 122.5 L959.9 122.0 L960.6 121.6 L961.3 121.1 L962.0 120.7 L962.7 120.2 L963.4 119.8 L964.1 119.3 L964.8 118.9 L965.5 118.4 L966.2 118.0 L966.9 117.6 L967.5 117.2 L968.2 116.7 L968.9 116.3 L969.6 115.9 L970.3 115.5 L971.0 115.1 L971.7 114.7 L972.4 114.3 L973.1 113.9 L973.8 113.5 L974.5 113.1 L975.2 112.7 L975.9 112.3 L976.6 111.9 L977.3 111.5 L977.9 111.2 L978.6 110.8 L979.3 110.4 L980.0 110.0 L980.7 109.7 L981.4 109.3 L982.1 108.9 L982.8 108.6 L983.5 108.2 L984.2 107.9 L984.9 107.5" fill="none" stroke="#000" stroke-width="4.1" stroke-linecap="round" stroke-linejoin="round"/>
<path d="M650.7 864.1 L651.4 862.8 L652.1 861.6 L652.8 860.3 L653.5 859.0 L654.2 857.8 L654.9 856.5 L655.6 855.2 L656.3 853.9 L657.0 852.6 L657.7 851.3 L658.4 850.0 L659.1 848.6 L659.7 847.3 L660.4 845.9 L661.1 844.6 L661.8 843.2 L662.5 841.9 L663.2 840.5 L663.9 839.1 L664.6 837.7 L665.3 836.3 L666.0 834.9 L666.7 833.5 L667.4 832.1 L668.1 830.6 L668.8 829.2 L669.5 827.7 L670.1 826.3 L670.8 824.8 L671.5 823.3 L672.2 821.9 L672.9 820.4 L673.6 818.9 L674.3 817.4 L675.0 815.9 L675.7 814.3 L676.4 812.8 L677.1 811.3 L677.8 809.7 L678.5 808.2 L679.2 806.6 L679.8 805.1 L680.5 803.5 L681.2 801.9 L681.9 800.3 L682.6 798.7 L683.3 797.1 L684.0 795.5 L684.7 793.9 L685.4 792.2 L686.1 790.6 L686.8 789.0 L687.5 787.3 L688.2 785.6 L688.9 784.0 L689.6 782.3 L690.2 780.6 L690.9 778.9 L691.6 777.2 L692.3 775.5 L693.0 773.8 L693.7 772.1 L694.4 770.3 L695.1 768.6 L695.8 766.9 L696.5 765.1 L697.2 763.3 L697.9 761.6 L698.6 759.8 L699.3 758.0 L700.0 756.2 L700.6 754.4 L701.3 752.6 L702.0 750.8 L702.7 749.0 L703.4 747.2 L704.1 745.3 L704.8 743.5 L705.5 741.6 L706.2 739.8 L706.9 737.9 L707.6 736.0 L708.3 734.2 L709.0 732.3 L709.7 730.4 L710.4 728.5 L711.0 726.6 L711.7 724.7 L712.4 722.8 L713.1 720.8 L713.8 718.9 L714.5 717.0 L715.2 715.0 L715.9 713.1 L716.6 711.1 L717.3 709.1 L718.0 707.2 L718.7 705.2 L719.4 703.2 L720.1 701.2 L720.8 699.2 L721.4 697.2 L722.1 695.2 L722.8 693.2 L723.5 691.2 L724.2 689.1 L724.9 687.1 L725.6 685.1 L726.3 683.0 L727.0 681.0 L727.7 678.9 L728.4 676.9 L729.1 674.8 L729.8 672.7 L730.5 670.6 L731.2 668.6 L731.8 666.5 L732.5 664.4 L733.2 662.3 L733.9 660.2 L734.6 658.1 L735.3 655.9 L736.0 653.8 L736.7 651.7 L737.4 649.6 L738.1 647.4 L738.8 645.3 L739.5 643.2 L740.2 641.0 L740.9 638.9 L741.5 636.7 L742.2 634.6 L742.9 632.4 L743.6 630.2 L744.3 628.1 L745.0 625.9 L745.7 623.7 L746.4 621.5 L747.1 619.3 L747.8 617.2 L748.5 615.0 L749.2 612.8 L749.9 610.6 L750.6 608.4 L751.3 606.2 L751.9 604.0 L752.6 601.8 L753.3 599.5 L754.0 597.3 L754.7 595.1 L755.4 592.9 L756.1 590.7 L756.8 588.4 L757.5 586.2 L758.2 584.0 L758.9 581.7 L759.6 579.5 L760.3 577.3 L761.0 575.0 L761.7 572.8 L762.3 570.6 L763.0 568.3 L763.7 566.1 L764.4 563.8 L765.1 561.6 L765.8 559.3 L766.5 557.1 L767.2 554.8 L767.9 552.6 L768.6 550.3 L769.3 548.1 L770.0 545.8 L770.7 543.6 L771.4 541.3 L772.1 539.0 L772.7 536.8 L773.4 534.5 L774.1 532.3 L774.8 530.0 L775.5 527.8 L776.2 525.5 L776.9 523.3 L777.6 521.0 L778.3 518.8 L779.0 516.5 L779.7 514.3 L780.4 512.0 L781.1 509.8 L781.8 507.5 L782.5 505.3 L783.1 503.0 L783.8 500.8 L784.5 498.5 L785.2 496.3 L785.9 494.0 L786.6 491.8 L787.3 489.6 L788.0 487.3 L788.7 485.1 L789.4 482.8 L790.1 480.6 L790.8 478.4 L791.5 476.2 L792.2 473.9 L792.8 471.7 L793.5 469.5 L794.2 467.3 L794.9 465.1 L795.6 462.9 L796.3 460.6 L797.0 458.4 L797.7 456.2 L798.4 454.0 L799.1 451.8 L799.8 449.7 L800.5 447.5 L801.2 445.3 L801.9 443.1 L802.6 440.9 L803.2 438.7 L803.9 436.6 L804.6 434.4 L805.3 432.2 L806.0 430.1 L806.7 427.9 L807.4 425.8 L808.1 423.6 L808.8 421.5 L809.5 419.4 L810.2 417.2 L810.9 415.1 L811.6 413.0 L812.3 410.9 L813.0 408.7 L813.6 406.6 L814.3 404.5 L815.0 402.4 L815.7 400.3 L816.4 398.2 L817.1 396.2 L817.8 394.1 L818.5 392.0 L819.2 389.9 L819.9 387.9 L820.6 385.8 L821.3 383.8 L822.0 381.7 L822.7 379.7 L823.4 377.7 L824.0 375.6 L824.7 373.6 L825.4 371.6 L826.1 369.6 L826.8 367.6 L827.5 365.6 L828.2 363.6 L828.9 361.6 L829.6 359.6 L830.3 357.7 L831.0 355.7 L831.7 353.7 L832.4 351.8 L833.1 349.8 L833.8 347.9 L834.4 346.0 L835.1 344.0 L835.8 342.1 L836.5 340.2 L837.2 338.3 L837.9 336.4 L838.6 334.5 L839.3 332.6 L840.0 330.7 L840.7 328.9 L841.4 327.0 L842.1 325.1 L842.8 323.3 L843.5 321.4 L844.2 319.6 L844.8 317.8 L845.5 316.0 L846.2 314.1 L846.9 312.3 L847.6 310.5 L848.3 308.7 L849.0 307.0 L849.7 305.2 L850.4 303.4 L851.1 301.7 L851.8 299.9 L852.5 298.2 L853.2 296.4 L853.9 294.7 L854.5 293.0 L855.2 291.2 L855.9 289.5 L856.6 287.8 L857.3 286.1 L858.0 284.5 L858.7 282.8 L859.4 281.1 L860.1 279.4 L860.8 277.8 L861.5 276.1 L862.2 274.5 L862.9 272.9 L863.6 271.3 L864.3 269.6 L864.9 268.0 L865.6 266.4 L866.3 264.8 L867.0 263.3 L867.7 261.7 L868.4 260.1 L869.1 258.6 L869.8 257.0 L870.5 255.5 L871.2 253.9 L871.9 252.4 L872.6 250.9 L873.3 249.4 L874.0 247.9 L874.7 246.4 L875.3 244.9 L876.0 243.4 L876.7 241.9 L877.4 240.5 L878.1 239.0 L878.8 237.5 L879.5 236.1 L880.2 234.7 L880.9 233.2 L881.6 231.8 L882.3 230.4 L883.0 229.0 L883.7 227.6 L884.4 226.2 L885.1 224.9 L885.7 223.5 L886.4 222.1 L887.1 220.8 L887.8 219.4 L888.5 218.1 L889.2 216.8 L889.9 215.4 L890.6 214.1 L891.3 212.8 L892.0 211.5 L892.7 210.2 L893.4 208.9 L894.1 207.7 L894.8 206.4 L895.5 205.1 L896.1 203.9 L896.8 202.6 L897.5 201.4 L898.2 200.2 L898.9 198.9 L899.6 197.7 L900.3 196.5 L901.0 195.3 L901.7 194.1 L902.4 192.9 L903.1 191.8 L903.8 190.6 L904.5 189.4 L905.2 188.3 L905.8 187.1 L906.5 186.0 L907.2 184.8 L907.9 183.7 L908.6 182.6 L909.3 181.5 L910.0 180.4 L910.7 179.3 L911.4 178.2 L912.1 177.1 L912.8 176.0 L913.5 175.0 L914.2 173.9 L914.9 172.8 L915.6 171.8 L916.2 170.8 L916.9 169.7 L917.6 168.7 L918.3 167.7 L919.0 166.7 L919.7 165.7 L920.4 164.7 L921.1 163.7 L921.8 162.7 L922.5 161.7 L923.2 160.7 L923.9 159.8 L924.6 158.8 L925.3 157.9 L926.0 156.9 L926.6 156.0 L927.3 155.0 L928.0 154.1 L928.7 153.2 L929.4 152.3 L930.1 151.4 L930.8 150.5 L931.5 149.6 L932.2 148.7 L932.9 147.8 L933.6 146.9 L934.3 146.1 L935.0 145.2 L935.7 144.3 L936.4 143.5 L937.0 142.6 L937.7 141.8 L938.4 141.0 L939.1 140.1 L939.8 139.3 L940.5 138.5 L941.2 137.7 L941.9 136.9 L942.6 136.1 L943.3 135.3 L944.0 134.5 L944.7 133.8 L945.4 133.0 L946.1 132.2 L946.8 131.4 L947.4 130.7 L948.1 129.9 L948.8 129.2 L949.5 128.5 L950.2 127.7 L950.9 127.0 L951.6 126.3 L952.3 125.6 L953.0 124.8 L953.7 124.1 L954.4 123.4 L955.1 122.7 L955.8 122.0 L956.5 121.4 L957.1 120.7 L957.8 120.0 L958.5 119.3 L959.2 118.7 L959.9 118.0 L960.6 117.4 L961.3 116.7 L962.0 116.1 L962.7 115.4 L963.4 114.8 L964.1 114.2" fill="none" stroke="#000" stroke-width="4.1" stroke-linecap="round" stroke-linejoin="round"/>
<path d="M596.7 851.9 L597.4 851.6 L598.0 851.4 L598.7 851.1 L599.4 850.8 L600.1 850.5 L600.8 850.3 L601.5 850.0 L602.2 849.7 L602.9 849.4 L603.6 849.1 L604.3 848.8 L605.0 848.5 L605.7 848.2 L606.4 847.9 L607.1 847.6 L607.8 847.3 L608.4 847.0 L609.1 846.7 L609.8 846.4 L610.5 846.1 L611.2 845.8 L611.9 845.4 L612.6 845.1 L613.3 844.8 L614.0 844.4 L614.7 844.1 L615.4 843.7 L616.1 843.4 L616.8 843.0 L617.5 842.7 L618.2 842.3 L618.8 842.0 L619.5 841.6 L620.2 841.2 L620.9 840.9 L621.6 840.5 L622.3 840.1 L623.0 839.7 L623.7 839.3 L624.4 839.0 L625.1 838.6 L625.8 838.2 L626.5 837.8 L627.2 837.3 L627.9 836.9 L628.5 836.5 L629.2 836.1 L629.9 835.7 L630.6 835.2 L631.3 834.8 L632.0 834.4 L632.7 833.9 L633.4 833.5 L634.1 833.0 L634.8 832.6 L635.5 832.1 L636.2 831.7 L636.9 831.2 L637.6 830.7 L638.3 830.3 L638.9 829.8 L639.6 829.3 L640.3 828.8 L641.0 828.3 L641.7 827.8 L642.4 827.3 L643.1 826.8 L643.8 826.3 L644.5 825.7 L645.2 825.2 L645.9 824.7 L646.6 824.1 L647.3 823.6 L648.0 823.1 L648.7 822.5 L649.3 822.0 L650.0 821.4 L650.7 820.8 L651.4 820.3 L652.1 819.7 L652.8 819.1 L653.5 818.5 L654.2 817.9 L654.9 817.3 L655.6 816.7 L656.3 816.1 L657.0 815.5 L657.7 814.8 L658.4 814.2 L659.1 813.6 L659.7 812.9 L660.4 812.3 L661.1 811.6 L661.8 811.0 L662.5 810.3 L663.2 809.6 L663.9 809.0 L664.6 808.3 L665.3 807.6 L666.0 806.9 L666.7 806.2 L667.4 805.5 L668.1 804.8 L668.8 804.0 L669.5 803.3 L670.1 802.6 L670.8 801.8 L671.5 801.1 L672.2 800.3 L672.9 799.6 L673.6 798.8 L674.3 798.0 L675.0 797.3 L675.7 796.5 L676.4 795.7 L677.1 794.9 L677.8 794.1 L678.5 793.2 L679.2 792.4 L679.8 791.6 L680.5 790.7 L681.2 789.9 L681.9 789.0 L682.6 788.2 L683.3 787.3 L684.0 786.4 L684.7 785.6 L685.4 784.7 L686.1 783.8 L686.8 782.9 L687.5 781.9 L688.2 781.0 L688.9 780.1 L689.6 779.2 L690.2 778.2 L690.9 777.3 L691.6 776.3 L692.3 775.3 L693.0 774.4 L693.7 773.4 L694.4 772.4 L695.1 771.4 L695.8 770.4 L696.5 769.4 L697.2 768.3 L697.9 767.3 L698.6 766.3 L699.3 765.2 L700.0 764.2 L700.6 763.1 L701.3 762.0 L702.0 761.0 L702.7 759.9 L703.4 758.8 L704.1 757.7 L704.8 756.5 L705.5 755.4 L706.2 754.3 L706.9 753.1 L707.6 752.0 L708.3 750.8 L709.0 749.7 L709.7 748.5 L710.4 747.3 L711.0 746.1 L711.7 744.9 L712.4 743.7 L713.1 742.5 L713.8 741.3 L714.5 740.0 L715.2 738.8 L715.9 737.5 L716.6 736.3 L717.3 735.0 L718.0 733.7 L718.7 732.4 L719.4 731.1 L720.1 729.8 L720.8 728.5 L721.4 727.2 L722.1 725.8 L722.8 724.5 L723.5 723.1 L724.2 721.8 L724.9 720.4 L725.6 719.0 L726.3 717.6 L727.0 716.2 L727.7 714.8 L728.4 713.4 L729.1 712.0 L729.8 710.6 L730.5 709.1 L731.2 707.7 L731.8 706.2 L732.5 704.7 L733.2 703.3 L733.9 701.8 L734.6 700.3 L735.3 698.8 L736.0 697.3 L736.7 695.7 L737.4 694.2 L738.1 692.7 L738.8 691.1 L739.5 689.6 L740.2 688.0 L740.9 686.4 L741.5 684.8 L742.2 683.2 L742.9 681.6 L743.6 680.0 L744.3 678.4 L745.0 676.8 L745.7 675.1 L746.4 673.5 L747.1 671.8 L747.8 670.2 L748.5 668.5 L749.2 666.8 L749.9 665.1 L750.6 663.4 L751.3 661.7 L751.9 660.0 L752.6 658.3 L753.3 656.6 L754.0 654.8 L754.7 653.1 L755.4 651.3 L756.1 649.6 L756.8 647.8 L757.5 646.0 L758.2 644.2 L758.9 642.5 L759.6 640.7 L760.3 638.8 L761.0 637.0 L761.7 635.2 L762.3 633.4 L763.0 631.5 L763.7 629.7 L764.4 627.9 L765.1 626.0 L765.8 624.1 L766.5 622.3 L767.2 620.4 L767.9 618.5 L768.6 616.6 L769.3 614.7 L770.0 612.8 L770.7 610.9 L771.4 609.0 L772.1 607.0 L772.7 605.1 L773.4 603.2 L774.1 601.2 L774.8 599.3 L775.5 597.3 L776.2 595.4 L776.9 593.4 L777.6 591.4 L778.3 589.4 L779.0 587.5 L779.7 585.5 L780.4 583.5 L781.1 581.5 L781.8 579.5 L782.5 577.5 L783.1 575.5 L783.8 573.4 L784.5 571.4 L785.2 569.4 L785.9 567.4 L786.6 565.3 L787.3 563.3 L788.0 561.3 L788.7 559.2 L789.4 557.2 L790.1 555.1 L790.8 553.1 L791.5 551.0 L792.2 548.9 L792.8 546.9 L793.5 544.8 L794.2 542.7 L794.9 540.6 L795.6 538.6 L796.3 536.5 L797.0 534.4 L797.7 532.3 L798.4 530.2 L799.1 528.1 L799.8 526.1 L800.5 524.0 L801.2 521.9 L801.9 519.8 L802.6 517.7 L803.2 515.6 L803.9 513.5 L804.6 511.4 L805.3 509.3 L806.0 507.2 L806.7 505.1 L807.4 503.0 L808.1 500.9 L808.8 498.8 L809.5 496.7 L810.2 494.6 L810.9 492.4 L811.6 490.3 L812.3 488.2 L813.0 486.1 L813.6 484.0 L814.3 481.9 L815.0 479.8 L815.7 477.7 L816.4 475.6 L817.1 473.5 L817.8 471.5 L818.5 469.4 L819.2 467.3 L819.9 465.2 L820.6 463.1 L821.3 461.0 L822.0 458.9 L822.7 456.8 L823.4 454.8 L824.0 452.7 L824.7 450.6 L825.4 448.5 L826.1 446.5 L826.8 444.4 L827.5 442.4 L828.2 440.3 L828.9 438.2 L829.6 436.2 L830.3 434.1 L831.0 432.1 L831.7 430.1 L832.4 428.0 L833.1 426.0 L833.8 424.0 L834.4 422.0 L835.1 419.9 L835.8 417.9 L836.5 415.9 L837.2 413.9 L837.9 411.9 L838.6 409.9 L839.3 407.9 L840.0 406.0 L840.7 404.0 L841.4 402.0 L842.1 400.0 L842.8 398.1 L843.5 396.1 L844.2 394.2 L844.8 392.2 L845.5 390.3 L846.2 388.4 L846.9 386.4 L847.6 384.5 L848.3 382.6 L849.0 380.7 L849.7 378.8 L850.4 376.9 L851.1 375.0 L851.8 373.1 L852.5 371.3 L853.2 369.4 L853.9 367.5 L854.5 365.7 L855.2 363.8 L855.9 362.0 L856.6 360.2 L857.3 358.3 L858.0 356.5 L858.7 354.7 L859.4 352.9 L860.1 351.1 L860.8 349.3 L861.5 347.6 L862.2 345.8 L862.9 344.0 L863.6 342.3 L864.3 340.5 L864.9 338.8 L865.6 337.1 L866.3 335.4 L867.0 333.6 L867.7 331.9 L868.4 330.2 L869.1 328.6 L869.8 326.9 L870.5 325.2 L871.2 323.5 L871.9 321.9 L872.6 320.2 L873.3 318.6 L874.0 317.0 L874.7 315.3 L875.3 313.7 L876.0 312.1 L876.7 310.5 L877.4 309.0 L878.1 307.4 L878.8 305.8 L879.5 304.2 L880.2 302.7 L880.9 301.2 L881.6 299.6 L882.3 298.1 L883.0 296.6 L883.7 295.1 L884.4 293.6 L885.1 292.1 L885.7 290.6 L886.4 289.1 L887.1 287.7 L887.8 286.2 L888.5 284.8 L889.2 283.4 L889.9 281.9 L890.6 280.5 L891.3 279.1 L892.0 277.7 L892.7 276.3 L893.4 274.9 L894.1 273.6 L894.8 272.2 L895.5 270.8 L896.1 269.5 L896.8 268.2 L897.5 266.8 L898.2 265.5 L898.9 264.2 L899.6 262.9 L900.3 261.6 L901.0 260.3 L901.7 259.1 L902.4 257.8 L903.1 256.6 L903.8 255.3 L904.5 254.1 L905.2 252.8 L905.8 251.6 L906.5 250.4 L907.2 249.2 L907.9 248.0 L908.6 246.8 L909.3 245.7 L910.0 244.5 L910.7 243.3 L911.4 242.2 L912.1 241.0 L912.8 239.9 L913.5 238.8 L914.2 237.7 L914.9 236.6 L915.6 235.5 L916.2 234.4 L916.9 233.3 L917.6 232.2 L918.3 231.1 L919.0 230.1 L919.7 229.0 L920.4 228.0 L921.1 227.0 L921.8 225.9 L922.5 224.9 L923.2 223.9 L923.9 222.9 L924.6 221.9 L925.3 220.9 L926.0 220.0 L926.6 219.0 L927.3 218.0 L928.0 217.1 L928.7 216.1 L929.4 215.2 L930.1 214.3 L930.8 213.3 L931.5 212.4 L932.2 211.5 L932.9 210.6 L933.6 209.7 L934.3 208.9 L935.0 208.0 L935.7 207.1 L936.4 206.2 L937.0 205.4 L937.7 204.5 L938.4 203.7 L939.1 202.9 L939.8 202.1 L940.5 201.2 L941.2 200.4 L941.9 199.6 L942.6 198.8 L943.3 198.0 L944.0 197.2 L944.7 196.5 L945.4 195.7 L946.1 194.9 L946.8 194.2 L947.4 193.4 L948.1 192.7 L948.8 192.0 L949.5 191.2 L950.2 190.5 L950.9 189.8 L951.6 189.1 L952.3 188.4 L953.0 187.7 L953.7 187.0 L954.4 186.3 L955.1 185.6 L955.8 185.0 L956.5 184.3 L957.1 183.6" fill="none" stroke="#000" stroke-width="4.1" stroke-linecap="round" stroke-linejoin="round"/>
<path d="M596.7 844.7 L597.4 844.7 L598.0 844.7 L598.7 844.7 L599.4 844.7 L600.1 844.7 L600.8 844.7 L601.5 844.6 L602.2 844.6 L602.9 844.6 L603.6 844.6 L604.3 844.6 L605.0 844.6 L605.7 844.5 L606.4 844.5 L607.1 844.5 L607.8 844.5 L608.4 844.5 L609.1 844.4 L609.8 844.4 L610.5 844.4 L611.2 844.4 L611.9 844.4 L612.6 844.3 L613.3 844.3 L614.0 844.3 L614.7 844.3 L615.4 844.3 L616.1 844.2 L616.8 844.2 L617.5 844.2 L618.2 844.2 L618.8 844.2 L619.5 844.1 L620.2 844.1 L620.9 844.1 L621.6 844.1 L622.3 844.0 L623.0 844.0 L623.7 844.0 L624.4 843.9 L625.1 843.9 L625.8 843.9 L626.5 843.9 L627.2 843.8 L627.9 843.8 L628.5 843.8 L629.2 843.7 L629.9 843.7 L630.6 843.7 L631.3 843.7 L632.0 843.6 L632.7 843.6 L633.4 843.6 L634.1 843.5 L634.8 843.5 L635.5 843.5 L636.2 843.4 L636.9 843.4 L637.6 843.3 L638.3 843.3 L638.9 843.3 L639.6 843.2 L640.3 843.2 L641.0 843.2 L641.7 843.1 L642.4 843.1 L643.1 843.0 L643.8 843.0 L644.5 842.9 L645.2 842.9 L645.9 842.9 L646.6 842.8 L647.3 842.8 L648.0 842.7 L648.7 842.7 L649.3 842.6 L650.0 842.6 L650.7 842.5 L651.4 842.5 L652.1 842.4 L652.8 842.4 L653.5 842.3 L654.2 842.3 L654.9 842.2 L655.6 842.1 L656.3 842.1 L657.0 842.0 L657.7 842.0 L658.4 841.9 L659.1 841.9 L659.7 841.8 L660.4 841.7 L661.1 841.7 L661.8 841.6 L662.5 841.5 L663.2 841.5 L663.9 841.4 L664.6 841.3 L665.3 841.3 L666.0 841.2 L666.7 841.1 L667.4 841.0 L668.1 841.0 L668.8 840.9 L669.5 840.8 L670.1 840.7 L670.8 840.6 L671.5 840.6 L672.2 840.5 L672.9 840.4 L673.6 840.3 L674.3 840.2 L675.0 840.1 L675.7 840.0 L676.4 840.0 L677.1 839.9 L677.8 839.8 L678.5 839.7 L679.2 839.6 L679.8 839.5 L680.5 839.4 L681.2 839.3 L681.9 839.2 L682.6 839.1 L683.3 838.9 L684.0 838.8 L684.7 838.7 L685.4 838.6 L686.1 838.5 L686.8 838.4 L687.5 838.3 L688.2 838.1 L688.9 838.0 L689.6 837.9 L690.2 837.8 L690.9 837.6 L691.6 837.5 L692.3 837.4 L693.0 837.2 L693.7 837.1 L694.4 837.0 L695.1 836.8 L695.8 836.7 L696.5 836.5 L697.2 836.4 L697.9 836.2 L698.6 836.1 L699.3 835.9 L700.0 835.7 L700.6 835.6 L701.3 835.4 L702.0 835.3 L702.7 835.1 L703.4 834.9 L704.1 834.7 L704.8 834.6 L705.5 834.4 L706.2 834.2 L706.9 834.0 L707.6 833.8 L708.3 833.6 L709.0 833.4 L709.7 833.2 L710.4 833.0 L711.0 832.8 L711.7 832.6 L712.4 832.4 L713.1 832.2 L713.8 832.0 L714.5 831.7 L715.2 831.5 L715.9 831.3 L716.6 831.0 L717.3 830.8 L718.0 830.6 L718.7 830.3 L719.4 830.1 L720.1 829.8 L720.8 829.5 L721.4 829.3 L722.1 829.0 L722.8 828.7 L723.5 828.5 L724.2 828.2 L724.9 827.9 L725.6 827.6 L726.3 827.3 L727.0 827.0 L727.7 826.7 L728.4 826.4 L729.1 826.1 L729.8 825.8 L730.5 825.5 L731.2 825.1 L731.8 824.8 L732.5 824.5 L733.2 824.1 L733.9 823.8 L734.6 823.4 L735.3 823.1 L736.0 822.7 L736.7 822.3 L737.4 821.9 L738.1 821.6 L738.8 821.2 L739.5 820.8 L740.2 820.4 L740.9 820.0 L741.5 819.5 L742.2 819.1 L742.9 818.7 L743.6 818.3 L744.3 817.8 L745.0 817.4 L745.7 816.9 L746.4 816.5 L747.1 816.0 L747.8 815.5 L748.5 815.0 L749.2 814.5 L749.9 814.0 L750.6 813.5 L751.3 813.0 L751.9 812.5 L752.6 812.0 L753.3 811.4 L754.0 810.9 L754.7 810.3 L755.4 809.8 L756.1 809.2 L756.8 808.6 L757.5 808.0 L758.2 807.4 L758.9 806.8 L759.6 806.2 L760.3 805.6 L761.0 804.9 L761.7 804.3 L762.3 803.6 L763.0 803.0 L763.7 802.3 L764.4 801.6 L765.1 800.9 L765.8 800.2 L766.5 799.5 L767.2 798.8 L767.9 798.0 L768.6 797.3 L769.3 796.5 L770.0 795.7 L770.7 794.9 L771.4 794.2 L772.1 793.3 L772.7 792.5 L773.4 791.7 L774.1 790.9 L774.8 790.0 L775.5 789.1 L776.2 788.3 L776.9 787.4 L777.6 786.5 L778.3 785.5 L779.0 784.6 L779.7 783.7 L780.4 782.7 L781.1 781.7 L781.8 780.7 L782.5 779.7 L783.1 778.7 L783.8 777.7 L784.5 776.7 L785.2 775.6 L785.9 774.5 L786.6 773.4 L787.3 772.3 L788.0 771.2 L788.7 770.1 L789.4 768.9 L790.1 767.8 L790.8 766.6 L791.5 765.4 L792.2 764.2 L792.8 763.0 L793.5 761.7 L794.2 760.5 L794.9 759.2 L795.6 757.9 L796.3 756.6 L797.0 755.2 L797.7 753.9 L798.4 752.5 L799.1 751.1 L799.8 749.7 L800.5 748.3 L801.2 746.9 L801.9 745.4 L802.6 743.9 L803.2 742.4 L803.9 740.9 L804.6 739.4 L805.3 737.8 L806.0 736.3 L806.7 734.7 L807.4 733.1 L808.1 731.4 L808.8 729.8 L809.5 728.1 L810.2 726.4 L810.9 724.7 L811.6 723.0 L812.3 721.2 L813.0 719.4 L813.6 717.6 L814.3 715.8 L815.0 714.0 L815.7 712.1 L816.4 710.3 L817.1 708.3 L817.8 706.4 L818.5 704.5 L819.2 702.5 L819.9 700.5 L820.6 698.5 L821.3 696.5 L822.0 694.4 L822.7 692.3 L823.4 690.2 L824.0 688.1 L824.7 686.0 L825.4 683.8 L826.1 681.6 L826.8 679.4 L827.5 677.2 L828.2 674.9 L828.9 672.6 L829.6 670.3 L830.3 668.0 L831.0 665.6 L831.7 663.2 L832.4 660.8 L833.1 658.4 L833.8 656.0 L834.4 653.5 L835.1 651.0 L835.8 648.5 L836.5 646.0 L837.2 643.4 L837.9 640.8 L838.6 638.2 L839.3 635.6 L840.0 632.9 L840.7 630.3 L841.4 627.6 L842.1 624.9 L842.8 622.1 L843.5 619.4 L844.2 616.6 L844.8 613.8 L845.5 610.9 L846.2 608.1 L846.9 605.2 L847.6 602.3 L848.3 599.4 L849.0 596.5 L849.7 593.5 L850.4 590.5 L851.1 587.5 L851.8 584.5 L852.5 581.5 L853.2 578.4 L853.9 575.3 L854.5 572.2 L855.2 569.1 L855.9 566.0 L856.6 562.8 L857.3 559.7 L858.0 556.5 L858.7 553.3 L859.4 550.0 L860.1 546.8 L860.8 543.5 L861.5 540.2 L862.2 537.0 L862.9 533.6 L863.6 530.3 L864.3 527.0 L864.9 523.6 L865.6 520.2 L866.3 516.9 L867.0 513.5 L867.7 510.0 L868.4 506.6 L869.1 503.2 L869.8 499.7 L870.5 496.3 L871.2 492.8 L871.9 489.3 L872.6 485.8 L873.3 482.3 L874.0 478.8 L874.7 475.3 L875.3 471.7 L876.0 468.2 L876.7 464.6 L877.4 461.1 L878.1 457.5 L878.8 453.9 L879.5 450.3 L880.2 446.8 L880.9 443.2 L881.6 439.6 L882.3 436.0 L883.0 432.4 L883.7 428.8 L884.4 425.1 L885.1 421.5 L885.7 417.9 L886.4 414.3 L887.1 410.7 L887.8 407.1 L888.5 403.5 L889.2 399.8 L889.9 396.2 L890.6 392.6 L891.3 389.0 L892.0 385.4 L892.7 381.8 L893.4 378.2 L894.1 374.6 L894.8 371.0 L895.5 367.4 L896.1 363.8 L896.8 360.3 L897.5 356.7 L898.2 353.1 L898.9 349.6 L899.6 346.0 L900.3 342.5 L901.0 339.0 L901.7 335.4 L902.4 331.9 L903.1 328.4 L903.8 324.9 L904.5 321.5 L905.2 318.0 L905.8 314.5 L906.5 311.1 L907.2 307.7 L907.9 304.2 L908.6 300.8 L909.3 297.4 L910.0 294.1 L910.7 290.7 L911.4 287.4 L912.1 284.0 L912.8 280.7 L913.5 277.4 L914.2 274.1 L914.9 270.9 L915.6 267.6 L916.2 264.4 L916.9 261.2 L917.6 258.0 L918.3 254.8 L919.0 251.6 L919.7 248.5 L920.4 245.3 L921.1 242.2 L921.8 239.2 L922.5 236.1 L923.2 233.0 L923.9 230.0 L924.6 227.0 L925.3 224.0 L926.0 221.1 L926.6 218.1 L927.3 215.2 L928.0 212.3 L928.7 209.4 L929.4 206.6 L930.1 203.7 L930.8 200.9 L931.5 198.1 L932.2 195.3 L932.9 192.6 L933.6 189.9 L934.3 187.2 L935.0 184.5 L935.7 181.8 L936.4 179.2 L937.0 176.6 L937.7 174.0 L938.4 171.4 L939.1 168.9 L939.8 166.4 L940.5 163.9 L941.2 161.4 L941.9 158.9 L942.6 156.5 L943.3 154.1 L944.0 151.7 L944.7 149.4 L945.4 147.0 L946.1 144.7 L946.8 142.4 L947.4 140.1 L948.1 137.9 L948.8 135.7 L949.5 133.5 L950.2 131.3 L950.9 129.1 L951.6 127.0 L952.3 124.9 L953.0 122.8 L953.7 120.8 L954.4 118.7 L955.1 116.7 L955.8 114.7 L956.5 112.7 L957.1 110.8 L957.8 108.8 L958.5 106.9 L959.2 105.0 L959.9 103.2 L960.6 101.3 L961.3 99.5 L962.0 97.7 L962.7 95.9 L963.4 94.2 L964.1 92.4 L964.8 90.7 L965.5 89.0 L966.2 87.3 L966.9 85.7 L967.5 84.0 L968.2 82.4 L968.9 80.8 L969.6 79.2 L970.3 77.7 L971.0 76.1 L971.7 74.6 L972.4 73.1" fill="none" stroke="#000" stroke-width="4.1" stroke-linecap="round" stroke-linejoin="round"/>
<path d="M596.7 836.0V830.4M610.5 826.7V818.4M610.5 826.7V835.9M666.0 651.3V645.0M666.0 651.3V663.0M679.8 591.0V586.7M749.2 343.7V332.7M749.2 343.7V358.4M804.6 201.3V212.3M818.5 180.2V191.2M638.3 741.9V736.0M638.3 741.9V751.0M582.8 848.0V840.7M610.5 809.5V800.9M610.5 809.5V820.2M679.8 600.0V602.8M749.2 406.8V395.8M749.2 406.8V417.8M776.9 336.4V329.5M776.9 336.4V343.7M804.6 279.4V268.6M804.6 279.4V290.0M818.5 261.5V249.7M818.5 261.5V272.8M832.4 241.9V254.8M846.2 225.5V210.8M846.2 225.5V241.0M860.1 208.8V195.7M860.1 208.8V223.2M874.0 188.6V181.7M874.0 188.6V196.6M887.8 176.7V164.2M887.8 176.7V190.3M763.0 365.2V372.8M679.8 737.8V724.5M679.8 737.8V751.6M693.7 716.7V687.8M693.7 716.7V745.2M707.6 678.2V663.0M707.6 678.2V693.5M721.4 609.3V599.2M721.4 609.3V619.4M735.3 572.1V563.3M735.3 572.1V580.8M749.2 505.8V484.3M749.2 505.8V527.6M763.0 480.1V472.4M763.0 480.1V489.7M804.6 345.6V337.8M804.6 345.6V353.7M860.1 244.7V232.3M860.1 244.7V256.6M915.6 146.5V121.0M929.4 132.2V120.0M957.1 109.0V100.0M957.1 109.0V136.8M971.0 121.5V101.8M971.0 121.5V141.9M984.9 126.0V108.0M984.9 126.0V143.5M887.8 215.0V205.0M887.8 215.0V225.0M693.7 767.7V755.4M693.7 767.7V781.4M707.6 744.7V734.0M707.6 744.7V751.5M721.4 699.5V690.5M721.4 699.5V707.4M749.2 613.9V604.7M749.2 613.9V623.9M763.0 572.0V563.3M763.0 572.0V580.3M776.9 515.3V504.3M776.9 515.3V527.0M790.8 483.5V470.0M790.8 483.5V496.8M818.5 382.9V372.3M818.5 382.9V394.6M832.4 350.5V342.9M832.4 350.5V358.7M860.1 289.3V306.9M874.0 254.2V246.1M874.0 254.2V271.0M929.4 152.5V166.0M901.7 196.6V205.5M749.2 663.4V651.1M749.2 663.4V672.6M818.5 479.5V470.8M818.5 479.5V486.4M887.8 313.3V303.6M887.8 313.3V318.3M915.6 227.3V219.5M929.4 177.3V169.0M721.4 720.5V731.9M679.8 785.0V776.3M679.8 785.0V791.6M790.8 559.5V549.9M790.8 559.5V566.0M721.4 822.5V815.8M735.3 814.0V806.2M749.2 802.2V793.3M749.2 802.2V811.7M763.0 790.1V779.6M763.0 790.1V800.7M776.9 772.7V764.5M776.9 772.7V781.9M790.8 752.1V743.8M790.8 752.1V761.7M804.6 723.7V736.0M818.5 699.2V686.8M818.5 699.2V712.0M832.4 663.2V649.0M832.4 663.2V677.4M846.2 621.2V603.5M846.2 621.2V639.4M860.1 568.7V554.0M860.1 568.7V582.8M874.0 508.8V490.8M874.0 508.8V526.6M887.8 431.0V416.0M887.8 431.0V446.4M901.7 341.9V327.0M901.7 341.9V356.8M915.6 258.8V245.2M915.6 258.8V274.2" fill="none" stroke="#000" stroke-width="1.6"/>
<path d="M589.9 830.4H603.5M603.7 818.4H617.3M603.7 835.9H617.3M659.2 645.0H672.8M659.2 663.0H672.8M673.0 586.7H686.6M742.4 332.7H756.0M742.4 358.4H756.0M797.8 212.3H811.4M811.7 191.2H825.3M631.5 736.0H645.1M631.5 751.0H645.1M576.0 840.7H589.6M603.7 800.9H617.3M603.7 820.2H617.3M673.0 602.8H686.6M742.4 395.8H756.0M742.4 417.8H756.0M770.1 329.5H783.7M770.1 343.7H783.7M797.8 268.6H811.4M797.8 290.0H811.4M811.7 249.7H825.3M811.7 272.8H825.3M825.6 254.8H839.2M839.4 210.8H853.0M839.4 241.0H853.0M853.3 195.7H866.9M853.3 223.2H866.9M867.2 181.7H880.8M867.2 196.6H880.8M881.0 164.2H894.6M881.0 190.3H894.6M756.2 372.8H769.8M673.0 724.5H686.6M673.0 751.6H686.6M686.9 687.8H700.5M686.9 745.2H700.5M700.8 663.0H714.4M700.8 693.5H714.4M714.6 599.2H728.2M714.6 619.4H728.2M728.5 563.3H742.1M728.5 580.8H742.1M742.4 484.3H756.0M742.4 527.6H756.0M756.2 472.4H769.8M756.2 489.7H769.8M797.8 337.8H811.4M797.8 353.7H811.4M853.3 232.3H866.9M853.3 256.6H866.9M908.8 121.0H922.4M922.6 120.0H936.2M950.4 100.0H963.9M950.4 136.8H963.9M964.2 101.8H977.8M964.2 141.9H977.8M978.1 108.0H991.7M978.1 143.5H991.7M881.0 205.0H894.6M881.0 225.0H894.6M686.9 755.4H700.5M686.9 781.4H700.5M700.8 734.0H714.4M700.8 751.5H714.4M714.6 690.5H728.2M714.6 707.4H728.2M742.4 604.7H756.0M742.4 623.9H756.0M756.2 563.3H769.8M756.2 580.3H769.8M770.1 504.3H783.7M770.1 527.0H783.7M784.0 470.0H797.6M784.0 496.8H797.6M811.7 372.3H825.3M811.7 394.6H825.3M825.6 342.9H839.2M825.6 358.7H839.2M853.3 306.9H866.9M867.2 246.1H880.8M867.2 271.0H880.8M922.6 166.0H936.2M894.9 205.5H908.5M742.4 651.1H756.0M742.4 672.6H756.0M811.7 470.8H825.3M811.7 486.4H825.3M881.0 303.6H894.6M881.0 318.3H894.6M908.8 219.5H922.4M922.6 169.0H936.2M714.6 731.9H728.2M673.0 776.3H686.6M673.0 791.6H686.6M784.0 549.9H797.6M784.0 566.0H797.6M714.6 815.8H728.2M728.5 806.2H742.1M742.4 793.3H756.0M742.4 811.7H756.0M756.2 779.6H769.8M756.2 800.7H769.8M770.1 764.5H783.7M770.1 781.9H783.7M784.0 743.8H797.6M784.0 761.7H797.6M797.8 736.0H811.4M811.7 686.8H825.3M811.7 712.0H825.3M825.6 649.0H839.2M825.6 677.4H839.2M839.4 603.5H853.0M839.4 639.4H853.0M853.3 554.0H866.9M853.3 582.8H866.9M867.2 490.8H880.8M867.2 526.6H880.8M881.0 416.0H894.6M881.0 446.4H894.6M894.9 327.0H908.5M894.9 356.8H908.5M908.8 245.2H922.4M908.8 274.2H922.4" fill="none" stroke="#000" stroke-width="2.2"/>
<g fill="#000">
<path d="M577.0 854.3L588.6 854.3L582.8 864.7Z"/>
<path d="M590.9 832.3L602.5 832.3L596.7 842.7Z"/>
<path d="M604.7 823.0L616.3 823.0L610.5 833.4Z"/>
<path d="M618.6 790.8L630.2 790.8L624.4 801.2Z"/>
<path d="M632.5 738.2L644.1 738.2L638.3 748.6Z"/>
<path d="M646.3 697.9L657.9 697.9L652.1 708.3Z"/>
<path d="M660.2 647.6L671.8 647.6L666.0 658.0Z"/>
<path d="M674.0 587.3L685.6 587.3L679.8 597.7Z"/>
<path d="M687.9 559.8L699.5 559.8L693.7 570.2Z"/>
<path d="M701.8 501.6L713.4 501.6L707.6 512.0Z"/>
<path d="M715.6 441.8L727.2 441.8L721.4 452.2Z"/>
<path d="M729.5 387.9L741.1 387.9L735.3 398.3Z"/>
<path d="M743.4 340.0L755.0 340.0L749.2 350.4Z"/>
<path d="M757.2 301.5L768.8 301.5L763.0 311.9Z"/>
<path d="M771.1 267.6L782.7 267.6L776.9 278.0Z"/>
<path d="M785.0 235.1L796.6 235.1L790.8 245.5Z"/>
<path d="M798.8 197.6L810.4 197.6L804.6 208.0Z"/>
<path d="M812.7 176.5L824.3 176.5L818.5 186.9Z"/>
<path d="M826.6 156.8L838.2 156.8L832.4 167.2Z"/>
<path d="M840.4 144.0L852.0 144.0L846.2 154.4Z"/>
<path d="M854.3 129.8L865.9 129.8L860.1 140.2Z"/>
<path d="M868.2 113.7L879.8 113.7L874.0 124.1Z"/>
<path d="M882.0 111.3L893.6 111.3L887.8 121.7Z"/>
<path d="M895.9 106.3L907.5 106.3L901.7 116.7Z"/>
<path d="M909.8 104.8L921.4 104.8L915.6 115.2Z"/>
<path d="M923.6 101.8L935.2 101.8L929.4 112.2Z"/>
<path d="M568.9 855.5L574.3 861.5L568.9 867.5L563.5 861.5Z"/>
<path d="M582.8 842.0L588.2 848.0L582.8 854.0L577.4 848.0Z"/>
<path d="M596.7 824.0L602.1 830.0L596.7 836.0L591.3 830.0Z"/>
<path d="M610.5 803.5L615.9 809.5L610.5 815.5L605.1 809.5Z"/>
<path d="M624.4 771.0L629.8 777.0L624.4 783.0L619.0 777.0Z"/>
<path d="M638.3 736.0L643.7 742.0L638.3 748.0L632.9 742.0Z"/>
<path d="M652.1 697.0L657.5 703.0L652.1 709.0L646.7 703.0Z"/>
<path d="M666.0 654.0L671.4 660.0L666.0 666.0L660.6 660.0Z"/>
<path d="M679.8 594.0L685.2 600.0L679.8 606.0L674.4 600.0Z"/>
<path d="M693.7 558.3L699.1 564.3L693.7 570.3L688.3 564.3Z"/>
<path d="M707.6 522.7L713.0 528.7L707.6 534.7L702.2 528.7Z"/>
<path d="M721.4 471.3L726.8 477.3L721.4 483.3L716.0 477.3Z"/>
<path d="M735.3 432.4L740.7 438.4L735.3 444.4L729.9 438.4Z"/>
<path d="M749.2 400.8L754.6 406.8L749.2 412.8L743.8 406.8Z"/>
<path d="M763.0 359.2L768.4 365.2L763.0 371.2L757.6 365.2Z"/>
<path d="M776.9 330.4L782.3 336.4L776.9 342.4L771.5 336.4Z"/>
<path d="M790.8 301.9L796.2 307.9L790.8 313.9L785.4 307.9Z"/>
<path d="M804.6 273.4L810.0 279.4L804.6 285.4L799.2 279.4Z"/>
<path d="M818.5 255.5L823.9 261.5L818.5 267.5L813.1 261.5Z"/>
<path d="M832.4 235.9L837.8 241.9L832.4 247.9L827.0 241.9Z"/>
<path d="M846.2 219.5L851.6 225.5L846.2 231.5L840.8 225.5Z"/>
<path d="M860.1 202.8L865.5 208.8L860.1 214.8L854.7 208.8Z"/>
<path d="M874.0 182.6L879.4 188.6L874.0 194.6L868.6 188.6Z"/>
<path d="M887.8 170.7L893.2 176.7L887.8 182.7L882.4 176.7Z"/>
<path d="M901.7 158.0L907.1 164.0L901.7 170.0L896.3 164.0Z"/>
<path d="M915.6 146.0L921.0 152.0L915.6 158.0L910.2 152.0Z"/>
<path d="M929.4 134.0L934.8 140.0L929.4 146.0L924.0 140.0Z"/>
<path d="M943.3 125.0L948.7 131.0L943.3 137.0L937.9 131.0Z"/>
<path d="M957.1 118.0L962.5 124.0L957.1 130.0L951.8 124.0Z"/>
<rect x="632.2" y="856.4" width="12.2" height="12.2"/>
<rect x="646.0" y="840.9" width="12.2" height="12.2"/>
<rect x="659.9" y="790.9" width="12.2" height="12.2"/>
<rect x="673.7" y="731.7" width="12.2" height="12.2"/>
<rect x="687.6" y="710.6" width="12.2" height="12.2"/>
<rect x="701.5" y="672.1" width="12.2" height="12.2"/>
<rect x="715.3" y="603.2" width="12.2" height="12.2"/>
<rect x="729.2" y="566.0" width="12.2" height="12.2"/>
<rect x="743.1" y="499.7" width="12.2" height="12.2"/>
<rect x="756.9" y="474.0" width="12.2" height="12.2"/>
<rect x="770.8" y="419.9" width="12.2" height="12.2"/>
<rect x="784.7" y="381.2" width="12.2" height="12.2"/>
<rect x="798.5" y="339.5" width="12.2" height="12.2"/>
<rect x="812.4" y="310.9" width="12.2" height="12.2"/>
<rect x="826.3" y="282.9" width="12.2" height="12.2"/>
<rect x="840.1" y="268.6" width="12.2" height="12.2"/>
<rect x="854.0" y="238.6" width="12.2" height="12.2"/>
<rect x="867.9" y="222.9" width="12.2" height="12.2"/>
<rect x="881.7" y="208.9" width="12.2" height="12.2"/>
<rect x="895.6" y="177.7" width="12.2" height="12.2"/>
<rect x="909.5" y="140.4" width="12.2" height="12.2"/>
<rect x="923.3" y="126.1" width="12.2" height="12.2"/>
<rect x="937.2" y="102.2" width="12.2" height="12.2"/>
<rect x="951.0" y="102.9" width="12.2" height="12.2"/>
<rect x="964.9" y="115.4" width="12.2" height="12.2"/>
<rect x="978.8" y="119.9" width="12.2" height="12.2"/>
<circle cx="652.1" cy="862.0" r="5.9"/>
<circle cx="666.0" cy="836.8" r="5.9"/>
<circle cx="679.8" cy="799.1" r="5.9"/>
<circle cx="693.7" cy="767.7" r="5.9"/>
<circle cx="707.6" cy="744.7" r="5.9"/>
<circle cx="721.4" cy="699.5" r="5.9"/>
<circle cx="735.3" cy="654.7" r="5.9"/>
<circle cx="749.2" cy="613.9" r="5.9"/>
<circle cx="763.0" cy="572.0" r="5.9"/>
<circle cx="776.9" cy="515.3" r="5.9"/>
<circle cx="790.8" cy="483.5" r="5.9"/>
<circle cx="804.6" cy="434.6" r="5.9"/>
<circle cx="818.5" cy="382.9" r="5.9"/>
<circle cx="832.4" cy="350.5" r="5.9"/>
<circle cx="846.2" cy="310.5" r="5.9"/>
<circle cx="860.1" cy="289.3" r="5.9"/>
<circle cx="874.0" cy="254.2" r="5.9"/>
<circle cx="887.8" cy="217.0" r="5.9"/>
<circle cx="901.7" cy="196.6" r="5.9"/>
<circle cx="915.6" cy="173.0" r="5.9"/>
<circle cx="929.4" cy="152.5" r="5.9"/>
<circle cx="943.3" cy="123.0" r="5.9"/>
<circle cx="957.1" cy="121.0" r="5.9"/>
<circle cx="971.0" cy="113.4" r="5.9"/>
<path d="M590.6 866.8L602.8 866.8L596.7 855.2Z"/>
<path d="M604.4 866.8L616.6 866.8L610.5 855.2Z"/>
<path d="M618.3 860.5L630.5 860.5L624.4 848.9Z"/>
<path d="M632.2 863.8L644.4 863.8L638.3 852.2Z"/>
<path d="M646.0 836.8L658.2 836.8L652.1 825.2Z"/>
<path d="M659.9 813.8L672.1 813.8L666.0 802.2Z"/>
<path d="M673.7 790.8L685.9 790.8L679.8 779.2Z"/>
<path d="M687.6 773.8L699.8 773.8L693.7 762.2Z"/>
<path d="M701.5 749.8L713.7 749.8L707.6 738.2Z"/>
<path d="M715.3 726.3L727.5 726.3L721.4 714.7Z"/>
<path d="M729.2 696.7L741.4 696.7L735.3 685.1Z"/>
<path d="M743.1 669.2L755.3 669.2L749.2 657.6Z"/>
<path d="M756.9 631.2L769.1 631.2L763.0 619.6Z"/>
<path d="M770.8 597.7L783.0 597.7L776.9 586.1Z"/>
<path d="M784.7 565.3L796.9 565.3L790.8 553.7Z"/>
<path d="M798.5 523.8L810.7 523.8L804.6 512.2Z"/>
<path d="M812.4 485.3L824.6 485.3L818.5 473.7Z"/>
<path d="M826.3 451.1L838.5 451.1L832.4 439.5Z"/>
<path d="M840.1 418.7L852.3 418.7L846.2 407.1Z"/>
<path d="M854.0 388.6L866.2 388.6L860.1 377.0Z"/>
<path d="M867.9 352.8L880.1 352.8L874.0 341.2Z"/>
<path d="M881.7 319.1L893.9 319.1L887.8 307.5Z"/>
<path d="M895.6 276.5L907.8 276.5L901.7 264.9Z"/>
<path d="M909.5 233.1L921.7 233.1L915.6 221.5Z"/>
<path d="M923.3 183.1L935.5 183.1L929.4 171.5Z"/>
<path d="M591.1 861.0L593.9 856.0L599.5 856.0L602.3 861.0L599.5 866.0L593.9 866.0Z"/>
<path d="M604.9 860.7L607.7 855.7L613.3 855.7L616.1 860.7L613.3 865.7L607.7 865.7Z"/>
<path d="M618.8 858.0L621.6 853.0L627.2 853.0L630.0 858.0L627.2 863.0L621.6 863.0Z"/>
<path d="M632.7 846.5L635.5 841.5L641.1 841.5L643.9 846.5L641.1 851.5L635.5 851.5Z"/>
<path d="M646.5 849.0L649.3 844.0L654.9 844.0L657.7 849.0L654.9 854.0L649.3 854.0Z"/>
<path d="M660.4 850.3L663.2 845.3L668.8 845.3L671.6 850.3L668.8 855.3L663.2 855.3Z"/>
<path d="M674.2 842.5L677.0 837.5L682.6 837.5L685.4 842.5L682.6 847.5L677.0 847.5Z"/>
<path d="M688.1 836.8L690.9 831.8L696.5 831.8L699.3 836.8L696.5 841.8L690.9 841.8Z"/>
<path d="M702.0 830.0L704.8 825.0L710.4 825.0L713.2 830.0L710.4 835.0L704.8 835.0Z"/>
<path d="M715.8 822.5L718.6 817.5L724.2 817.5L727.0 822.5L724.2 827.5L718.6 827.5Z"/>
<path d="M729.7 814.0L732.5 809.0L738.1 809.0L740.9 814.0L738.1 819.0L732.5 819.0Z"/>
<path d="M743.6 802.2L746.4 797.2L752.0 797.2L754.8 802.2L752.0 807.2L746.4 807.2Z"/>
<path d="M757.4 790.1L760.2 785.1L765.8 785.1L768.6 790.1L765.8 795.1L760.2 795.1Z"/>
<path d="M771.3 772.7L774.1 767.7L779.7 767.7L782.5 772.7L779.7 777.7L774.1 777.7Z"/>
<path d="M785.2 752.1L788.0 747.1L793.6 747.1L796.4 752.1L793.6 757.1L788.0 757.1Z"/>
<path d="M799.0 723.7L801.8 718.7L807.4 718.7L810.2 723.7L807.4 728.7L801.8 728.7Z"/>
<path d="M812.9 699.2L815.7 694.2L821.3 694.2L824.1 699.2L821.3 704.2L815.7 704.2Z"/>
<path d="M826.8 663.2L829.6 658.2L835.2 658.2L838.0 663.2L835.2 668.2L829.6 668.2Z"/>
<path d="M840.6 621.2L843.4 616.2L849.0 616.2L851.8 621.2L849.0 626.2L843.4 626.2Z"/>
<path d="M854.5 568.7L857.3 563.7L862.9 563.7L865.7 568.7L862.9 573.7L857.3 573.7Z"/>
<path d="M868.4 508.8L871.2 503.8L876.8 503.8L879.6 508.8L876.8 513.8L871.2 513.8Z"/>
<path d="M882.2 431.0L885.0 426.0L890.6 426.0L893.4 431.0L890.6 436.0L885.0 436.0Z"/>
<path d="M896.1 341.9L898.9 336.9L904.5 336.9L907.3 341.9L904.5 346.9L898.9 346.9Z"/>
<path d="M910.0 258.8L912.8 253.8L918.4 253.8L921.2 258.8L918.4 263.8L912.8 263.8Z"/>
</g>
</svg>
</body></html>
